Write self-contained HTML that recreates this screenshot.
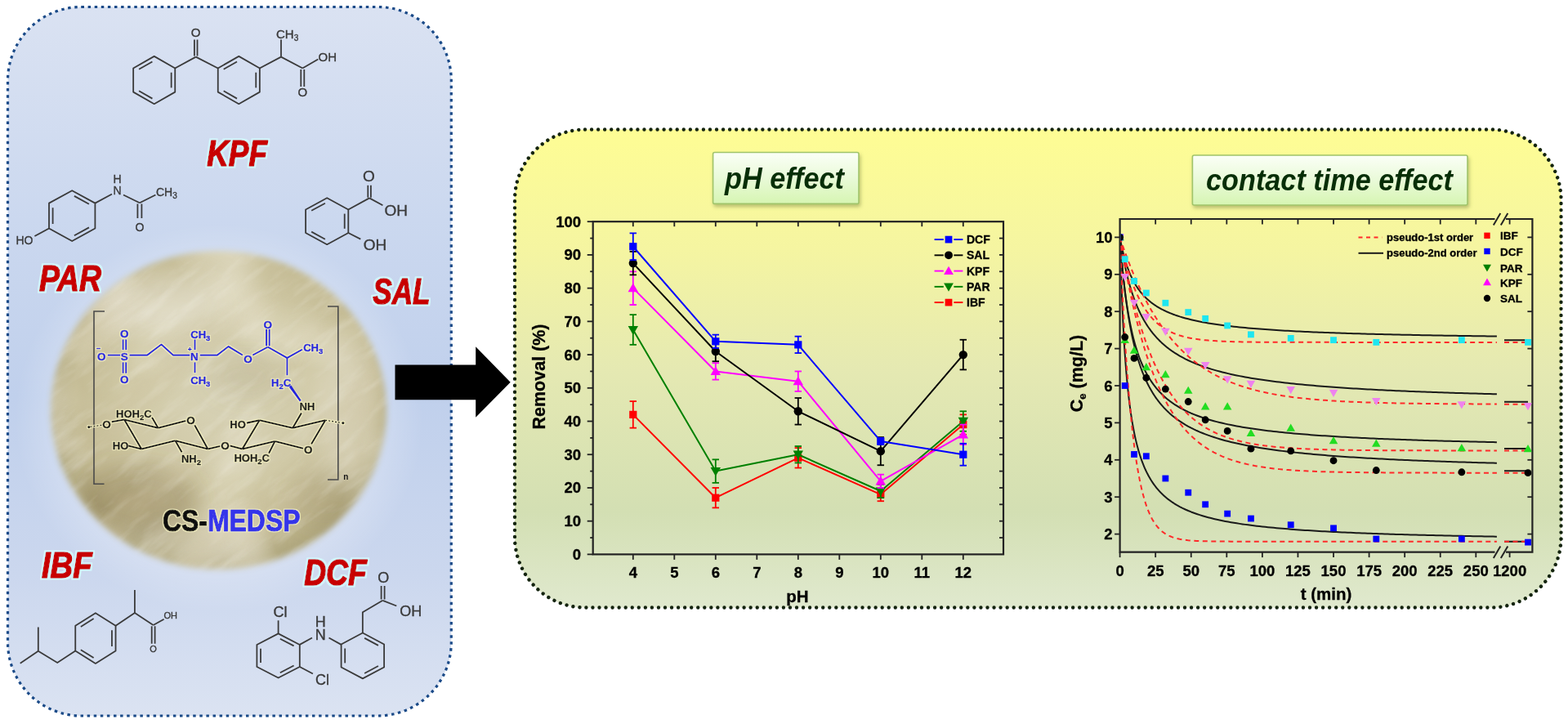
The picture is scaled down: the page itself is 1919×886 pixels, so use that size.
<!DOCTYPE html><html><head><meta charset="utf-8"><title>CS-MEDSP graphical abstract</title>
<style>html,body{margin:0;padding:0;background:#fff;overflow:hidden}svg{display:block}text{font-family:'Liberation Sans', Arial, sans-serif}.ch text{stroke:#3a3a3a;stroke-width:.35px}.ax text{stroke:#000;stroke-width:.3px}.pb text{stroke:#2525dc;stroke-width:.6px}.pk text{stroke:#141414;stroke-width:.5px}</style></head><body>
<svg width="1919" height="886" viewBox="0 0 1919 886">
<defs>
<linearGradient id="gL" x1="0" y1="0" x2="0" y2="1">
 <stop offset="0" stop-color="#dae2f2"/>
 <stop offset="0.3" stop-color="#cbd8ef"/>
 <stop offset="0.55" stop-color="#c0d0ec"/>
 <stop offset="0.8" stop-color="#cbd7ee"/>
 <stop offset="1" stop-color="#dbe3f2"/>
</linearGradient>
<radialGradient id="gHalo" cx="0.5" cy="0.5" r="0.5">
 <stop offset="0.7" stop-color="#ffffff" stop-opacity="0.32"/>
 <stop offset="0.85" stop-color="#ffffff" stop-opacity="0.16"/>
 <stop offset="1" stop-color="#ffffff" stop-opacity="0"/>
</radialGradient>
<radialGradient id="gLr" cx="0.5" cy="0.55" r="0.6">
 <stop offset="0" stop-color="#b7c9e9" stop-opacity="0.0"/>
 <stop offset="1" stop-color="#e4eaf5" stop-opacity="0.0"/>
</radialGradient>
<linearGradient id="gR" x1="0" y1="0" x2="0" y2="1">
 <stop offset="0" stop-color="#fefd94"/>
 <stop offset="0.25" stop-color="#f5f5a1"/>
 <stop offset="0.5" stop-color="#e5e9b2"/>
 <stop offset="0.8" stop-color="#d3dfb3"/>
 <stop offset="1" stop-color="#e0e9ce"/>
</linearGradient>
<linearGradient id="gT" x1="0" y1="0" x2="0" y2="1">
 <stop offset="0" stop-color="#fbfff7"/>
 <stop offset="0.5" stop-color="#e9fad8"/>
 <stop offset="1" stop-color="#d6f5b2"/>
</linearGradient>
<radialGradient id="gD" gradientUnits="userSpaceOnUse" cx="275" cy="480" r="215" gradientTransform="translate(275 480) scale(1 0.95) translate(-275 -480)">
 <stop offset="0" stop-color="#d8d3b7"/>
 <stop offset="0.55" stop-color="#d0c9a6"/>
 <stop offset="0.85" stop-color="#c4bb94"/>
 <stop offset="1" stop-color="#b1a87f"/>
</radialGradient>
<filter id="fBlur" x="-10%" y="-10%" width="120%" height="120%"><feGaussianBlur stdDeviation="3.8"/></filter>
<filter id="fSoft" x="-30%" y="-30%" width="160%" height="160%"><feGaussianBlur stdDeviation="14"/></filter>
<filter id="fMot" x="0" y="0" width="100%" height="100%">
 <feTurbulence type="fractalNoise" baseFrequency="0.009" numOctaves="2" seed="21" result="n"/>
 <feColorMatrix in="n" type="matrix" values="0 0 0 0 1  0 0 0 0 0.98  0 0 0 0 0.92  2.2 0 0 0 -1.05" result="w"/>
 <feComposite in="w" in2="SourceGraphic" operator="in"/>
</filter>
<filter id="fTexW" x="0" y="0" width="100%" height="100%">
 <feTurbulence type="fractalNoise" baseFrequency="0.016 0.075" numOctaves="4" seed="11" result="n"/>
 <feColorMatrix in="n" type="matrix" values="0 0 0 0 1  0 0 0 0 1  0 0 0 0 0.98  1.5 0 0 0 -0.72" result="w"/>
 <feComposite in="w" in2="SourceGraphic" operator="in"/>
</filter>
<filter id="fTexD" x="0" y="0" width="100%" height="100%">
 <feTurbulence type="fractalNoise" baseFrequency="0.006 0.02" numOctaves="3" seed="4" result="n"/>
 <feColorMatrix in="n" type="matrix" values="0 0 0 0 0.62  0 0 0 0 0.55  0 0 0 0 0.36  0 1.6 0 0 -0.78" result="w"/>
 <feComposite in="w" in2="SourceGraphic" operator="in"/>
</filter>
<filter id="fTex" x="0" y="0" width="100%" height="100%">
 <feTurbulence type="fractalNoise" baseFrequency="0.012 0.035" numOctaves="3" seed="7" result="n"/>
 <feColorMatrix in="n" type="matrix" values="0 0 0 0 1  0 0 0 0 1  0 0 0 0 0.97  1.6 0 0 0 -0.75" result="w"/>
 <feComposite in="w" in2="SourceGraphic" operator="in"/>
</filter>
<filter id="fShadow" x="-10%" y="-10%" width="130%" height="140%"><feDropShadow dx="1.5" dy="3" stdDeviation="2" flood-color="#6f7a3a" flood-opacity="0.45"/></filter>
<filter id="fGlowC" x="-5%" y="-5%" width="110%" height="110%"><feMorphology in="SourceAlpha" operator="dilate" radius="1.5" result="d"/><feFlood flood-color="#d2f4fb"/><feComposite in2="d" operator="in" result="g"/><feMerge><feMergeNode in="g"/><feMergeNode in="SourceGraphic"/></feMerge></filter>
<filter id="fGlowY" x="-5%" y="-5%" width="110%" height="110%"><feMorphology in="SourceAlpha" operator="dilate" radius="1.1" result="d"/><feFlood flood-color="#f3efc0" flood-opacity="0.85"/><feComposite in2="d" operator="in" result="g"/><feMerge><feMergeNode in="g"/><feMergeNode in="SourceGraphic"/></feMerge></filter>
<clipPath id="cp1"><rect x="726.7" y="272.2" width="500.3" height="405.2"/></clipPath>
<clipPath id="cp2a"><rect x="1371.6" y="269" width="460.3" height="405.6"/></clipPath>
<clipPath id="cp2b"><rect x="1840" y="269" width="34.5" height="405.6"/></clipPath>
</defs>
<rect x="0" y="0" width="1919" height="886" fill="#ffffff"/>
<rect x="9.5" y="8.5" width="542.8" height="867.5" rx="90" ry="90" fill="url(#gL)"/>
<rect x="9.5" y="8.5" width="542.8" height="867.5" rx="90" ry="90" fill="url(#gLr)"/>
<rect x="9.5" y="8.5" width="542.8" height="867.5" rx="90" ry="90" fill="none" stroke="#1a4a88" stroke-width="3.2" stroke-dasharray="3.48 4.62"/>
<ellipse cx="268" cy="512" rx="250" ry="238" fill="url(#gHalo)"/>
<mask id="mDisc" maskUnits="userSpaceOnUse" x="0" y="250" width="560" height="520"><ellipse cx="267.5" cy="502" rx="205.5" ry="195" fill="#fff" filter="url(#fBlur)"/></mask>
<g mask="url(#mDisc)">
<rect x="40" y="290" width="460" height="430" fill="url(#gD)"/>
<rect x="40" y="290" width="460" height="430" fill="#fff" opacity="0.55" filter="url(#fMot)"/>
<g filter="url(#fSoft)">
<ellipse cx="190" cy="372" rx="85" ry="38" fill="#f4f2ea" opacity="0.35"/>
<ellipse cx="425" cy="505" rx="38" ry="85" fill="#f4f2ea" opacity="0.3"/>
<ellipse cx="250" cy="668" rx="80" ry="22" fill="#f4f2ea" opacity="0.3"/>
<ellipse cx="170" cy="612" rx="72" ry="42" fill="#7a6a3e" opacity="0.34"/>
<ellipse cx="398" cy="612" rx="45" ry="34" fill="#85774a" opacity="0.22"/>
<ellipse cx="300" cy="462" rx="45" ry="26" fill="#8a7a4c" opacity="0.14"/>
</g>
<g transform="rotate(-38 268 505)" opacity="0.34"><rect x="-20" y="230" width="580" height="560" fill="#fff" filter="url(#fTexW)"/></g>
<g transform="rotate(-40 268 505)" opacity="0.6"><rect x="-20" y="230" width="580" height="560" fill="#fff" filter="url(#fTexD)"/></g>
</g>
<g class="ch">
<polygon points="188.7,68.9 214.25,83.47 214.25,112.62 188.7,127.2 163.15,112.62 163.15,83.47" fill="none" stroke="#3a3a3a" stroke-width="1.8" stroke-linejoin="round"/>
<line x1="170.07" y1="84.82" x2="186.42" y2="75.5" stroke="#3a3a3a" stroke-width="1.8"/>
<line x1="209.65" y1="88.72" x2="209.65" y2="107.38" stroke="#3a3a3a" stroke-width="1.8"/>
<line x1="186.42" y1="120.6" x2="170.07" y2="111.28" stroke="#3a3a3a" stroke-width="1.8"/>
<polygon points="292.3,68.9 317.85,83.47 317.85,112.62 292.3,127.2 266.75,112.62 266.75,83.47" fill="none" stroke="#3a3a3a" stroke-width="1.8" stroke-linejoin="round"/>
<line x1="273.67" y1="84.82" x2="290.02" y2="75.5" stroke="#3a3a3a" stroke-width="1.8"/>
<line x1="313.25" y1="88.72" x2="313.25" y2="107.38" stroke="#3a3a3a" stroke-width="1.8"/>
<line x1="290.02" y1="120.6" x2="273.67" y2="111.28" stroke="#3a3a3a" stroke-width="1.8"/>
<line x1="214.2" y1="83.5" x2="239.7" y2="69.6" stroke="#3a3a3a" stroke-width="1.8"/>
<line x1="239.7" y1="69.6" x2="266.7" y2="83.5" stroke="#3a3a3a" stroke-width="1.8"/>
<line x1="237.9" y1="48.5" x2="237.9" y2="68.5" stroke="#3a3a3a" stroke-width="1.8"/>
<line x1="241.5" y1="48.5" x2="241.5" y2="68.5" stroke="#3a3a3a" stroke-width="1.8"/>
<text x="239.7" y="44.5" font-size="15" fill="#3a3a3a" font-weight="normal" text-anchor="middle">O</text>
<line x1="317.8" y1="83.5" x2="344" y2="69.6" stroke="#3a3a3a" stroke-width="1.8"/>
<line x1="344" y1="69.6" x2="344" y2="48.5" stroke="#3a3a3a" stroke-width="1.8"/>
<text x="338" y="47.3" font-size="15" fill="#3a3a3a" font-weight="normal" text-anchor="start">CH<tspan font-size="10" dy="3">3</tspan></text>
<line x1="344" y1="69.6" x2="370.3" y2="83.5" stroke="#3a3a3a" stroke-width="1.8"/>
<line x1="370.3" y1="83.5" x2="389.3" y2="72.5" stroke="#3a3a3a" stroke-width="1.8"/>
<text x="389.5" y="75" font-size="15" fill="#3a3a3a" font-weight="normal" text-anchor="start">OH</text>
<line x1="368.3" y1="85" x2="368.3" y2="106" stroke="#3a3a3a" stroke-width="1.8"/>
<line x1="372.3" y1="85" x2="372.3" y2="106" stroke="#3a3a3a" stroke-width="1.8"/>
<text x="370.3" y="118" font-size="15" fill="#3a3a3a" font-weight="normal" text-anchor="middle">O</text>
<polygon points="88.2,233.2 116.4,248.65 116.4,279.55 88.2,295 60,279.55 60,248.65" fill="none" stroke="#3a3a3a" stroke-width="1.8" stroke-linejoin="round"/>
<line x1="90.89" y1="239.91" x2="108.93" y2="249.8" stroke="#3a3a3a" stroke-width="1.8"/>
<line x1="64.6" y1="273.99" x2="64.6" y2="254.21" stroke="#3a3a3a" stroke-width="1.8"/>
<line x1="108.93" y1="278.4" x2="90.89" y2="288.29" stroke="#3a3a3a" stroke-width="1.8"/>
<line x1="116.4" y1="248.65" x2="137" y2="237.5" stroke="#3a3a3a" stroke-width="1.8"/>
<text x="143.5" y="237.8" font-size="14" fill="#3a3a3a" font-weight="normal" text-anchor="middle">N</text>
<text x="143.5" y="224" font-size="14" fill="#3a3a3a" font-weight="normal" text-anchor="middle">H</text>
<line x1="151" y1="238.5" x2="170.9" y2="248.2" stroke="#3a3a3a" stroke-width="1.8"/>
<line x1="170.9" y1="248.2" x2="190.4" y2="238.5" stroke="#3a3a3a" stroke-width="1.8"/>
<text x="191" y="240.3" font-size="14" fill="#3a3a3a" font-weight="normal" text-anchor="start">CH<tspan font-size="10" dy="3">3</tspan></text>
<line x1="168.4" y1="249.5" x2="168.4" y2="267" stroke="#3a3a3a" stroke-width="1.8"/>
<line x1="173.4" y1="249.5" x2="173.4" y2="267" stroke="#3a3a3a" stroke-width="1.8"/>
<text x="170.9" y="283" font-size="14" fill="#3a3a3a" font-weight="normal" text-anchor="middle">O</text>
<line x1="60" y1="279.55" x2="42.4" y2="289" stroke="#3a3a3a" stroke-width="1.8"/>
<text x="30" y="298.5" font-size="14" fill="#3a3a3a" font-weight="normal" text-anchor="middle">HO</text>
<polygon points="400.2,242.2 426.3,256.45 426.3,284.95 400.2,299.2 374.1,284.95 374.1,256.45" fill="none" stroke="#3a3a3a" stroke-width="1.8" stroke-linejoin="round"/>
<line x1="381.19" y1="257.81" x2="397.9" y2="248.69" stroke="#3a3a3a" stroke-width="1.8"/>
<line x1="421.7" y1="261.58" x2="421.7" y2="279.82" stroke="#3a3a3a" stroke-width="1.8"/>
<line x1="397.9" y1="292.71" x2="381.19" y2="283.59" stroke="#3a3a3a" stroke-width="1.8"/>
<line x1="426.3" y1="256.45" x2="452.1" y2="242.4" stroke="#3a3a3a" stroke-width="1.8"/>
<line x1="450.3" y1="226.8" x2="450.3" y2="241.7" stroke="#3a3a3a" stroke-width="1.8"/>
<line x1="453.9" y1="226.8" x2="453.9" y2="241.7" stroke="#3a3a3a" stroke-width="1.8"/>
<text x="451.5" y="222.2" font-size="19" fill="#3a3a3a" font-weight="normal" text-anchor="middle">O</text>
<line x1="452.1" y1="242.4" x2="468.4" y2="251.2" stroke="#3a3a3a" stroke-width="1.8"/>
<text x="484.7" y="263.5" font-size="19" fill="#3a3a3a" font-weight="normal" text-anchor="middle">OH</text>
<line x1="426.3" y1="284.95" x2="441.3" y2="292.6" stroke="#3a3a3a" stroke-width="1.8"/>
<text x="459" y="306.2" font-size="19" fill="#3a3a3a" font-weight="normal" text-anchor="middle">OH</text>
<polygon points="116.9,750.25 141.55,765.68 141.55,796.52 116.9,811.95 92.25,796.52 92.25,765.68" fill="none" stroke="#3a3a3a" stroke-width="1.8" stroke-linejoin="round"/>
<line x1="98.85" y1="766.96" x2="114.63" y2="757.09" stroke="#3a3a3a" stroke-width="1.8"/>
<line x1="136.95" y1="771.23" x2="136.95" y2="790.97" stroke="#3a3a3a" stroke-width="1.8"/>
<line x1="114.63" y1="805.11" x2="98.85" y2="795.24" stroke="#3a3a3a" stroke-width="1.8"/>
<polyline points="92.25,796.5 70.2,811 46.8,796.8 46.8,767.6" fill="none" stroke="#3a3a3a" stroke-width="1.8"/>
<line x1="46.8" y1="796.8" x2="24.7" y2="811.7" stroke="#3a3a3a" stroke-width="1.8"/>
<polyline points="141.55,765.7 164.9,750 164.9,722.1" fill="none" stroke="#3a3a3a" stroke-width="1.8"/>
<line x1="164.9" y1="750" x2="187.6" y2="765" stroke="#3a3a3a" stroke-width="1.8"/>
<line x1="187.6" y1="765" x2="200.6" y2="757.8" stroke="#3a3a3a" stroke-width="1.8"/>
<text x="208.7" y="757" font-size="11" fill="#3a3a3a" font-weight="normal" text-anchor="middle">OH</text>
<line x1="185.7" y1="766.3" x2="185.7" y2="787.7" stroke="#3a3a3a" stroke-width="1.8"/>
<line x1="189.6" y1="766.3" x2="189.6" y2="787.7" stroke="#3a3a3a" stroke-width="1.8"/>
<text x="187.6" y="797.5" font-size="11" fill="#3a3a3a" font-weight="normal" text-anchor="middle">O</text>
<polygon points="340.6,775.4 366.8,788.93 366.8,815.98 340.6,829.5 314.4,815.98 314.4,788.93" fill="none" stroke="#3a3a3a" stroke-width="1.8" stroke-linejoin="round"/>
<line x1="342.82" y1="781.7" x2="359.59" y2="790.35" stroke="#3a3a3a" stroke-width="1.8"/>
<line x1="319" y1="811.11" x2="319" y2="793.79" stroke="#3a3a3a" stroke-width="1.8"/>
<line x1="359.59" y1="814.55" x2="342.82" y2="823.2" stroke="#3a3a3a" stroke-width="1.8"/>
<polygon points="443.85,774.5 470.1,788.48 470.1,816.43 443.85,830.4 417.6,816.43 417.6,788.48" fill="none" stroke="#3a3a3a" stroke-width="1.8" stroke-linejoin="round"/>
<line x1="446.13" y1="780.91" x2="462.93" y2="789.86" stroke="#3a3a3a" stroke-width="1.8"/>
<line x1="422.2" y1="811.39" x2="422.2" y2="793.51" stroke="#3a3a3a" stroke-width="1.8"/>
<line x1="462.93" y1="815.04" x2="446.13" y2="823.99" stroke="#3a3a3a" stroke-width="1.8"/>
<line x1="340.6" y1="775.4" x2="340.6" y2="759.3" stroke="#3a3a3a" stroke-width="1.8"/>
<text x="343" y="755.4" font-size="18" fill="#3a3a3a" font-weight="normal" text-anchor="middle">Cl</text>
<line x1="366.8" y1="816" x2="382.9" y2="824.5" stroke="#3a3a3a" stroke-width="1.8"/>
<text x="394.5" y="837.6" font-size="18" fill="#3a3a3a" font-weight="normal" text-anchor="middle">Cl</text>
<line x1="366.8" y1="788.9" x2="382" y2="780.5" stroke="#3a3a3a" stroke-width="1.8"/>
<text x="392.2" y="782.6" font-size="18" fill="#3a3a3a" font-weight="normal" text-anchor="middle">N</text>
<text x="392.2" y="766.6" font-size="18" fill="#3a3a3a" font-weight="normal" text-anchor="middle">H</text>
<line x1="402.5" y1="780.5" x2="417.6" y2="788.9" stroke="#3a3a3a" stroke-width="1.8"/>
<polyline points="443.85,774.5 443.85,749.2 468.4,734.8" fill="none" stroke="#3a3a3a" stroke-width="1.8"/>
<line x1="466.6" y1="717" x2="466.6" y2="733.5" stroke="#3a3a3a" stroke-width="1.8"/>
<line x1="470.6" y1="717" x2="470.6" y2="733.5" stroke="#3a3a3a" stroke-width="1.8"/>
<text x="469.2" y="713.4" font-size="18" fill="#3a3a3a" font-weight="normal" text-anchor="middle">O</text>
<line x1="468.4" y1="734.8" x2="485.3" y2="741.5" stroke="#3a3a3a" stroke-width="1.8"/>
<text x="502.7" y="754.4" font-size="18" fill="#3a3a3a" font-weight="normal" text-anchor="middle">OH</text>
</g>
<polyline points="128,381 115,381 115,592.2 127.5,592.2" fill="none" stroke="#4a4a4a" stroke-width="1.6"/>
<polyline points="401,375 413.8,375 413.8,587 401,587" fill="none" stroke="#4a4a4a" stroke-width="1.6"/>
<text x="423.4" y="586.5" font-size="10" fill="#141414" font-weight="bold" text-anchor="middle">n</text>
<g class="pb" filter="url(#fGlowY)" stroke-linejoin="round">
<text x="124.3" y="440.6" font-size="13.5" fill="#2525dc" font-weight="bold" text-anchor="middle">O</text>
<text x="120.6" y="428.5" font-size="9" fill="#2525dc" font-weight="bold" text-anchor="middle">&#8211;</text>
<line x1="131.7" y1="434.6" x2="147.2" y2="434.6" stroke="#2525dc" stroke-width="2.1"/>
<text x="152.2" y="440.6" font-size="13.5" fill="#2525dc" font-weight="bold" text-anchor="middle">S</text>
<line x1="150.6" y1="415.3" x2="150.6" y2="428.3" stroke="#2525dc" stroke-width="2.1"/>
<line x1="154.2" y1="415.3" x2="154.2" y2="428.3" stroke="#2525dc" stroke-width="2.1"/>
<text x="152.2" y="412.7" font-size="13.5" fill="#2525dc" font-weight="bold" text-anchor="middle">O</text>
<line x1="150.6" y1="443.2" x2="150.6" y2="456.9" stroke="#2525dc" stroke-width="2.1"/>
<line x1="154.2" y1="443.2" x2="154.2" y2="456.9" stroke="#2525dc" stroke-width="2.1"/>
<text x="152.2" y="468.5" font-size="13.5" fill="#2525dc" font-weight="bold" text-anchor="middle">O</text>
<polyline points="158.4,434.6 180.1,434.6 197.5,421.5 211.8,434.6 232.3,434.6" fill="none" stroke="#2525dc" stroke-width="2.1"/>
<text x="237.9" y="441.2" font-size="13.5" fill="#2525dc" font-weight="bold" text-anchor="middle">N</text>
<text x="232.3" y="430" font-size="8" fill="#2525dc" font-weight="bold" text-anchor="middle">+</text>
<line x1="238.5" y1="428.3" x2="238.5" y2="415.3" stroke="#2525dc" stroke-width="2.1"/>
<text x="233.3" y="413.8" font-size="13" fill="#2525dc" font-weight="bold" text-anchor="start">CH<tspan font-size="9.5" dy="3">3</tspan></text>
<line x1="238.5" y1="443.2" x2="238.5" y2="456.3" stroke="#2525dc" stroke-width="2.1"/>
<text x="233.3" y="469.8" font-size="13" fill="#2525dc" font-weight="bold" text-anchor="start">CH<tspan font-size="9.5" dy="3">3</tspan></text>
<polyline points="244.7,434.6 265.8,434.6 279.5,424 297,434.6" fill="none" stroke="#2525dc" stroke-width="2.1"/>
<text x="303.5" y="443.7" font-size="13.5" fill="#2525dc" font-weight="bold" text-anchor="middle">O</text>
<line x1="309.2" y1="434.6" x2="327.8" y2="424.6" stroke="#2525dc" stroke-width="2.1"/>
<line x1="326.1" y1="402.9" x2="326.1" y2="423.4" stroke="#2525dc" stroke-width="2.1"/>
<line x1="329.7" y1="402.9" x2="329.7" y2="423.4" stroke="#2525dc" stroke-width="2.1"/>
<text x="327.8" y="401.5" font-size="13.5" fill="#2525dc" font-weight="bold" text-anchor="middle">O</text>
<polyline points="327.8,424.6 351.4,438 370,427.7" fill="none" stroke="#2525dc" stroke-width="2.1"/>
<text x="371.2" y="430.3" font-size="13" fill="#2525dc" font-weight="bold" text-anchor="start">CH<tspan font-size="9.5" dy="3">3</tspan></text>
<line x1="351.4" y1="438" x2="351.4" y2="459.4" stroke="#2525dc" stroke-width="2.1"/>
<text x="332.1" y="472.6" font-size="13" fill="#2525dc" font-weight="bold" text-anchor="start">H<tspan font-size="9.5" dy="3">2</tspan><tspan dy="-3">C</tspan></text>
<line x1="354.5" y1="473" x2="367.7" y2="490.5" stroke="#2525dc" stroke-width="2.1"/>
</g>
<g class="pk" filter="url(#fGlowY)">
<circle cx="108.8" cy="522.6" r="1.7" fill="#141414"/>
<line x1="110.5" y1="522.3" x2="125" y2="520.2" stroke="#141414" stroke-width="1.5" stroke-dasharray="2 2"/>
<text x="130.5" y="524.4" font-size="13.5" fill="#141414" font-weight="bold" text-anchor="middle">O</text>
<line x1="136.6" y1="516.2" x2="152.1" y2="513.5" stroke="#141414" stroke-width="2.1"/>
<text x="142" y="511" font-size="13" fill="#141414" font-weight="bold" text-anchor="start">HOH<tspan font-size="9.5" dy="3">2</tspan><tspan dy="-3">C</tspan></text>
<line x1="152.1" y1="513.5" x2="193.5" y2="523.7" stroke="#141414" stroke-width="2.1"/>
<line x1="193.5" y1="523.7" x2="186" y2="510.8" stroke="#141414" stroke-width="2.1"/>
<line x1="193.5" y1="523.7" x2="227.3" y2="514.9" stroke="#141414" stroke-width="2.1"/>
<text x="233.4" y="519" font-size="13.5" fill="#141414" font-weight="bold" text-anchor="middle">O</text>
<line x1="238.2" y1="520.3" x2="254.4" y2="549.4" stroke="#141414" stroke-width="2.1"/>
<line x1="254.4" y1="549.4" x2="269.3" y2="546" stroke="#141414" stroke-width="2.1"/>
<text x="275.4" y="549.5" font-size="13.5" fill="#141414" font-weight="bold" text-anchor="middle">O</text>
<line x1="152.1" y1="513.5" x2="173.1" y2="549.4" stroke="#141414" stroke-width="2.1"/>
<text x="147.5" y="549.8" font-size="13" fill="#141414" font-weight="bold" text-anchor="middle">HO</text>
<line x1="157" y1="545.5" x2="173.1" y2="549.4" stroke="#141414" stroke-width="2.1"/>
<line x1="173.1" y1="549.4" x2="214.5" y2="539.2" stroke="#141414" stroke-width="2.1"/>
<line x1="214.5" y1="539.2" x2="254.4" y2="549.4" stroke="#141414" stroke-width="2.1"/>
<line x1="214.5" y1="539.2" x2="222.6" y2="553.5" stroke="#141414" stroke-width="2.1"/>
<text x="221.9" y="566" font-size="13" fill="#141414" font-weight="bold" text-anchor="start">NH<tspan font-size="9.5" dy="3">2</tspan></text>
<line x1="281.5" y1="545.5" x2="296.6" y2="549.4" stroke="#141414" stroke-width="2.1"/>
<line x1="296.6" y1="549.4" x2="317.6" y2="514.2" stroke="#141414" stroke-width="2.1"/>
<text x="291" y="524.4" font-size="13" fill="#141414" font-weight="bold" text-anchor="middle">HO</text>
<line x1="302" y1="517.6" x2="317.6" y2="514.2" stroke="#141414" stroke-width="2.1"/>
<line x1="317.6" y1="514.2" x2="358.2" y2="523.7" stroke="#141414" stroke-width="2.1"/>
<line x1="358.2" y1="523.7" x2="369" y2="505.4" stroke="#141414" stroke-width="2.1"/>
<text x="376" y="502.4" font-size="13" fill="#141414" font-weight="bold" text-anchor="middle">NH</text>
<line x1="358.2" y1="523.7" x2="398.2" y2="514.2" stroke="#141414" stroke-width="2.1"/>
<line x1="398.2" y1="514.2" x2="417" y2="517.3" stroke="#141414" stroke-width="1.5" stroke-dasharray="2 2"/>
<circle cx="419.8" cy="517.6" r="1.7" fill="#141414"/>
<line x1="398.2" y1="514.2" x2="381" y2="543.5" stroke="#141414" stroke-width="2.1"/>
<text x="377.2" y="554.8" font-size="13.5" fill="#141414" font-weight="bold" text-anchor="middle">O</text>
<line x1="371" y1="548.7" x2="336.5" y2="539.9" stroke="#141414" stroke-width="2.1"/>
<line x1="336.5" y1="539.9" x2="296.6" y2="549.4" stroke="#141414" stroke-width="2.1"/>
<line x1="336.5" y1="539.9" x2="329" y2="554.8" stroke="#141414" stroke-width="2.1"/>
<text x="286.4" y="565.3" font-size="13" fill="#141414" font-weight="bold" text-anchor="start">HOH<tspan font-size="9.5" dy="3">2</tspan><tspan dy="-3">C</tspan></text>
</g>
<line x1="355.5" y1="472.2" x2="367.7" y2="490.5" stroke="#2525dc" stroke-width="2.1"/>
<text x="199" y="650" font-size="37.5" font-weight="bold" textLength="168.5" lengthAdjust="spacingAndGlyphs" filter="url(#fGlowY)" stroke-width="1.1" stroke-linejoin="round"><tspan fill="#111" stroke="#111">CS-</tspan><tspan fill="#3434ea" stroke="#3434ea">MEDSP</tspan></text>
<text x="253.3" y="203.3" font-size="44" font-weight="bold" font-style="italic" fill="#c80000" stroke="#c80000" stroke-width="1.6" stroke-linejoin="round" textLength="73.6" lengthAdjust="spacingAndGlyphs" filter="url(#fGlowC)">KPF</text>
<text x="47.9" y="356" font-size="44" font-weight="bold" font-style="italic" fill="#c80000" stroke="#c80000" stroke-width="1.6" stroke-linejoin="round" textLength="76.1" lengthAdjust="spacingAndGlyphs" filter="url(#fGlowC)">PAR</text>
<text x="456.2" y="371.8" font-size="44" font-weight="bold" font-style="italic" fill="#c80000" stroke="#c80000" stroke-width="1.6" stroke-linejoin="round" textLength="70.3" lengthAdjust="spacingAndGlyphs" filter="url(#fGlowC)">SAL</text>
<text x="51" y="707.3" font-size="44" font-weight="bold" font-style="italic" fill="#c80000" stroke="#c80000" stroke-width="1.6" stroke-linejoin="round" textLength="61.6" lengthAdjust="spacingAndGlyphs" filter="url(#fGlowC)">IBF</text>
<text x="372.2" y="716.3" font-size="44" font-weight="bold" font-style="italic" fill="#c80000" stroke="#c80000" stroke-width="1.6" stroke-linejoin="round" textLength="76.6" lengthAdjust="spacingAndGlyphs" filter="url(#fGlowC)">DCF</text>
<polygon points="483.5,446.6 582.2,446.6 582.2,424.2 624.7,467.8 582.2,510.7 582.2,489.2 483.5,489.2" fill="#000"/>
<rect x="630" y="158.5" width="1280.5" height="585" rx="86" ry="86" fill="url(#gR)"/>
<rect x="630" y="158.5" width="1280.5" height="585" rx="86" ry="86" fill="none" stroke="#14240f" stroke-width="4.4" stroke-dasharray="0.001 8.05" stroke-linecap="round"/>
<rect x="872.6" y="186.5" width="178.4" height="62.9" rx="2" fill="url(#gT)" stroke="#a0c46a" stroke-width="1.6" filter="url(#fShadow)"/>
<text x="887" y="231" font-size="36" font-weight="bold" font-style="italic" fill="#072e07" textLength="146" lengthAdjust="spacingAndGlyphs">pH effect</text>
<rect x="1459.4" y="190" width="336.6" height="61" rx="2" fill="url(#gT)" stroke="#a0c46a" stroke-width="1.6" filter="url(#fShadow)"/>
<text x="1476" y="233" font-size="36" font-weight="bold" font-style="italic" fill="#072e07" textLength="302" lengthAdjust="spacingAndGlyphs">contact time effect</text>
<g class="ax">
<line x1="718.7" y1="678.4" x2="725.7" y2="678.4" stroke="#222" stroke-width="1.8"/>
<text x="711" y="684.9" font-size="18.5" fill="#000" font-weight="bold" text-anchor="end">0</text>
<line x1="722.2" y1="658.04" x2="725.7" y2="658.04" stroke="#222" stroke-width="1.8"/>
<line x1="1223" y1="658.04" x2="1228" y2="658.04" stroke="#222" stroke-width="1.8"/>
<line x1="718.7" y1="637.68" x2="725.7" y2="637.68" stroke="#222" stroke-width="1.8"/>
<line x1="1223" y1="637.68" x2="1228" y2="637.68" stroke="#222" stroke-width="1.8"/>
<text x="711" y="644.18" font-size="18.5" fill="#000" font-weight="bold" text-anchor="end">10</text>
<line x1="722.2" y1="617.32" x2="725.7" y2="617.32" stroke="#222" stroke-width="1.8"/>
<line x1="1223" y1="617.32" x2="1228" y2="617.32" stroke="#222" stroke-width="1.8"/>
<line x1="718.7" y1="596.96" x2="725.7" y2="596.96" stroke="#222" stroke-width="1.8"/>
<line x1="1223" y1="596.96" x2="1228" y2="596.96" stroke="#222" stroke-width="1.8"/>
<text x="711" y="603.46" font-size="18.5" fill="#000" font-weight="bold" text-anchor="end">20</text>
<line x1="722.2" y1="576.6" x2="725.7" y2="576.6" stroke="#222" stroke-width="1.8"/>
<line x1="1223" y1="576.6" x2="1228" y2="576.6" stroke="#222" stroke-width="1.8"/>
<line x1="718.7" y1="556.24" x2="725.7" y2="556.24" stroke="#222" stroke-width="1.8"/>
<line x1="1223" y1="556.24" x2="1228" y2="556.24" stroke="#222" stroke-width="1.8"/>
<text x="711" y="562.74" font-size="18.5" fill="#000" font-weight="bold" text-anchor="end">30</text>
<line x1="722.2" y1="535.88" x2="725.7" y2="535.88" stroke="#222" stroke-width="1.8"/>
<line x1="1223" y1="535.88" x2="1228" y2="535.88" stroke="#222" stroke-width="1.8"/>
<line x1="718.7" y1="515.52" x2="725.7" y2="515.52" stroke="#222" stroke-width="1.8"/>
<line x1="1223" y1="515.52" x2="1228" y2="515.52" stroke="#222" stroke-width="1.8"/>
<text x="711" y="522.02" font-size="18.5" fill="#000" font-weight="bold" text-anchor="end">40</text>
<line x1="722.2" y1="495.16" x2="725.7" y2="495.16" stroke="#222" stroke-width="1.8"/>
<line x1="1223" y1="495.16" x2="1228" y2="495.16" stroke="#222" stroke-width="1.8"/>
<line x1="718.7" y1="474.8" x2="725.7" y2="474.8" stroke="#222" stroke-width="1.8"/>
<line x1="1223" y1="474.8" x2="1228" y2="474.8" stroke="#222" stroke-width="1.8"/>
<text x="711" y="481.3" font-size="18.5" fill="#000" font-weight="bold" text-anchor="end">50</text>
<line x1="722.2" y1="454.44" x2="725.7" y2="454.44" stroke="#222" stroke-width="1.8"/>
<line x1="1223" y1="454.44" x2="1228" y2="454.44" stroke="#222" stroke-width="1.8"/>
<line x1="718.7" y1="434.08" x2="725.7" y2="434.08" stroke="#222" stroke-width="1.8"/>
<line x1="1223" y1="434.08" x2="1228" y2="434.08" stroke="#222" stroke-width="1.8"/>
<text x="711" y="440.58" font-size="18.5" fill="#000" font-weight="bold" text-anchor="end">60</text>
<line x1="722.2" y1="413.72" x2="725.7" y2="413.72" stroke="#222" stroke-width="1.8"/>
<line x1="1223" y1="413.72" x2="1228" y2="413.72" stroke="#222" stroke-width="1.8"/>
<line x1="718.7" y1="393.36" x2="725.7" y2="393.36" stroke="#222" stroke-width="1.8"/>
<line x1="1223" y1="393.36" x2="1228" y2="393.36" stroke="#222" stroke-width="1.8"/>
<text x="711" y="399.86" font-size="18.5" fill="#000" font-weight="bold" text-anchor="end">70</text>
<line x1="722.2" y1="373" x2="725.7" y2="373" stroke="#222" stroke-width="1.8"/>
<line x1="1223" y1="373" x2="1228" y2="373" stroke="#222" stroke-width="1.8"/>
<line x1="718.7" y1="352.64" x2="725.7" y2="352.64" stroke="#222" stroke-width="1.8"/>
<line x1="1223" y1="352.64" x2="1228" y2="352.64" stroke="#222" stroke-width="1.8"/>
<text x="711" y="359.14" font-size="18.5" fill="#000" font-weight="bold" text-anchor="end">80</text>
<line x1="722.2" y1="332.28" x2="725.7" y2="332.28" stroke="#222" stroke-width="1.8"/>
<line x1="1223" y1="332.28" x2="1228" y2="332.28" stroke="#222" stroke-width="1.8"/>
<line x1="718.7" y1="311.92" x2="725.7" y2="311.92" stroke="#222" stroke-width="1.8"/>
<line x1="1223" y1="311.92" x2="1228" y2="311.92" stroke="#222" stroke-width="1.8"/>
<text x="711" y="318.42" font-size="18.5" fill="#000" font-weight="bold" text-anchor="end">90</text>
<line x1="722.2" y1="291.56" x2="725.7" y2="291.56" stroke="#222" stroke-width="1.8"/>
<line x1="1223" y1="291.56" x2="1228" y2="291.56" stroke="#222" stroke-width="1.8"/>
<line x1="718.7" y1="271.2" x2="725.7" y2="271.2" stroke="#222" stroke-width="1.8"/>
<text x="711" y="277.7" font-size="18.5" fill="#000" font-weight="bold" text-anchor="end">100</text>
<line x1="774.8" y1="678.4" x2="774.8" y2="684.9" stroke="#222" stroke-width="1.8"/>
<line x1="774.8" y1="271.2" x2="774.8" y2="277.2" stroke="#222" stroke-width="1.8"/>
<text x="774.8" y="707" font-size="18.5" fill="#000" font-weight="bold" text-anchor="middle">4</text>
<line x1="825.3" y1="678.4" x2="825.3" y2="684.9" stroke="#222" stroke-width="1.8"/>
<line x1="825.3" y1="271.2" x2="825.3" y2="277.2" stroke="#222" stroke-width="1.8"/>
<text x="825.3" y="707" font-size="18.5" fill="#000" font-weight="bold" text-anchor="middle">5</text>
<line x1="875.8" y1="678.4" x2="875.8" y2="684.9" stroke="#222" stroke-width="1.8"/>
<line x1="875.8" y1="271.2" x2="875.8" y2="277.2" stroke="#222" stroke-width="1.8"/>
<text x="875.8" y="707" font-size="18.5" fill="#000" font-weight="bold" text-anchor="middle">6</text>
<line x1="926.3" y1="678.4" x2="926.3" y2="684.9" stroke="#222" stroke-width="1.8"/>
<line x1="926.3" y1="271.2" x2="926.3" y2="277.2" stroke="#222" stroke-width="1.8"/>
<text x="926.3" y="707" font-size="18.5" fill="#000" font-weight="bold" text-anchor="middle">7</text>
<line x1="976.8" y1="678.4" x2="976.8" y2="684.9" stroke="#222" stroke-width="1.8"/>
<line x1="976.8" y1="271.2" x2="976.8" y2="277.2" stroke="#222" stroke-width="1.8"/>
<text x="976.8" y="707" font-size="18.5" fill="#000" font-weight="bold" text-anchor="middle">8</text>
<line x1="1027.3" y1="678.4" x2="1027.3" y2="684.9" stroke="#222" stroke-width="1.8"/>
<line x1="1027.3" y1="271.2" x2="1027.3" y2="277.2" stroke="#222" stroke-width="1.8"/>
<text x="1027.3" y="707" font-size="18.5" fill="#000" font-weight="bold" text-anchor="middle">9</text>
<line x1="1077.8" y1="678.4" x2="1077.8" y2="684.9" stroke="#222" stroke-width="1.8"/>
<line x1="1077.8" y1="271.2" x2="1077.8" y2="277.2" stroke="#222" stroke-width="1.8"/>
<text x="1077.8" y="707" font-size="18.5" fill="#000" font-weight="bold" text-anchor="middle">10</text>
<line x1="1128.3" y1="678.4" x2="1128.3" y2="684.9" stroke="#222" stroke-width="1.8"/>
<line x1="1128.3" y1="271.2" x2="1128.3" y2="277.2" stroke="#222" stroke-width="1.8"/>
<text x="1128.3" y="707" font-size="18.5" fill="#000" font-weight="bold" text-anchor="middle">11</text>
<line x1="1178.8" y1="678.4" x2="1178.8" y2="684.9" stroke="#222" stroke-width="1.8"/>
<line x1="1178.8" y1="271.2" x2="1178.8" y2="277.2" stroke="#222" stroke-width="1.8"/>
<text x="1178.8" y="707" font-size="18.5" fill="#000" font-weight="bold" text-anchor="middle">12</text>
<rect x="725.7" y="271.2" width="502.3" height="407.2" fill="none" stroke="#222" stroke-width="2.2"/>
<text x="976" y="736.5" font-size="20.5" fill="#000" font-weight="bold" text-anchor="middle">pH</text>
<text x="0" y="0" font-size="21.5" font-weight="bold" text-anchor="middle" fill="#000" transform="translate(667 461) rotate(-90)">Removal (%)</text>
<g clip-path="url(#cp1)">
<polyline points="774.8,507.38 875.8,609.18 976.8,560.31 1077.8,605.1 1178.8,519.59" fill="none" stroke="#ff0000" stroke-width="2" stroke-linejoin="round"/>
<line x1="774.8" y1="491.09" x2="774.8" y2="523.66" stroke="#ff0000" stroke-width="1.8"/>
<line x1="770.6" y1="491.09" x2="779" y2="491.09" stroke="#ff0000" stroke-width="1.8"/>
<line x1="770.6" y1="523.66" x2="779" y2="523.66" stroke="#ff0000" stroke-width="1.8"/>
<line x1="875.8" y1="596.96" x2="875.8" y2="621.39" stroke="#ff0000" stroke-width="1.8"/>
<line x1="871.6" y1="596.96" x2="880" y2="596.96" stroke="#ff0000" stroke-width="1.8"/>
<line x1="871.6" y1="621.39" x2="880" y2="621.39" stroke="#ff0000" stroke-width="1.8"/>
<line x1="976.8" y1="548.1" x2="976.8" y2="572.53" stroke="#ff0000" stroke-width="1.8"/>
<line x1="972.6" y1="548.1" x2="981" y2="548.1" stroke="#ff0000" stroke-width="1.8"/>
<line x1="972.6" y1="572.53" x2="981" y2="572.53" stroke="#ff0000" stroke-width="1.8"/>
<line x1="1077.8" y1="596.96" x2="1077.8" y2="613.25" stroke="#ff0000" stroke-width="1.8"/>
<line x1="1073.6" y1="596.96" x2="1082" y2="596.96" stroke="#ff0000" stroke-width="1.8"/>
<line x1="1073.6" y1="613.25" x2="1082" y2="613.25" stroke="#ff0000" stroke-width="1.8"/>
<line x1="1178.8" y1="507.38" x2="1178.8" y2="531.81" stroke="#ff0000" stroke-width="1.8"/>
<line x1="1174.6" y1="507.38" x2="1183" y2="507.38" stroke="#ff0000" stroke-width="1.8"/>
<line x1="1174.6" y1="531.81" x2="1183" y2="531.81" stroke="#ff0000" stroke-width="1.8"/>
<rect x="770.2" y="502.78" width="9.2" height="9.2" fill="#ff0000"/>
<rect x="871.2" y="604.58" width="9.2" height="9.2" fill="#ff0000"/>
<rect x="972.2" y="555.71" width="9.2" height="9.2" fill="#ff0000"/>
<rect x="1073.2" y="600.5" width="9.2" height="9.2" fill="#ff0000"/>
<rect x="1174.2" y="514.99" width="9.2" height="9.2" fill="#ff0000"/>
<polyline points="774.8,403.54 875.8,576.6 976.8,556.24 1077.8,601.03 1178.8,515.52" fill="none" stroke="#008000" stroke-width="2" stroke-linejoin="round"/>
<line x1="774.8" y1="385.22" x2="774.8" y2="421.86" stroke="#008000" stroke-width="1.8"/>
<line x1="770.6" y1="385.22" x2="779" y2="385.22" stroke="#008000" stroke-width="1.8"/>
<line x1="770.6" y1="421.86" x2="779" y2="421.86" stroke="#008000" stroke-width="1.8"/>
<line x1="875.8" y1="562.35" x2="875.8" y2="590.85" stroke="#008000" stroke-width="1.8"/>
<line x1="871.6" y1="562.35" x2="880" y2="562.35" stroke="#008000" stroke-width="1.8"/>
<line x1="871.6" y1="590.85" x2="880" y2="590.85" stroke="#008000" stroke-width="1.8"/>
<line x1="976.8" y1="546.06" x2="976.8" y2="566.42" stroke="#008000" stroke-width="1.8"/>
<line x1="972.6" y1="546.06" x2="981" y2="546.06" stroke="#008000" stroke-width="1.8"/>
<line x1="972.6" y1="566.42" x2="981" y2="566.42" stroke="#008000" stroke-width="1.8"/>
<line x1="1077.8" y1="592.89" x2="1077.8" y2="609.18" stroke="#008000" stroke-width="1.8"/>
<line x1="1073.6" y1="592.89" x2="1082" y2="592.89" stroke="#008000" stroke-width="1.8"/>
<line x1="1073.6" y1="609.18" x2="1082" y2="609.18" stroke="#008000" stroke-width="1.8"/>
<line x1="1178.8" y1="503.3" x2="1178.8" y2="527.74" stroke="#008000" stroke-width="1.8"/>
<line x1="1174.6" y1="503.3" x2="1183" y2="503.3" stroke="#008000" stroke-width="1.8"/>
<line x1="1174.6" y1="527.74" x2="1183" y2="527.74" stroke="#008000" stroke-width="1.8"/>
<polygon points="774.8,409.74 781,398.89 768.6,398.89" fill="#008000"/>
<polygon points="875.8,582.8 882,571.95 869.6,571.95" fill="#008000"/>
<polygon points="976.8,562.44 983,551.59 970.6,551.59" fill="#008000"/>
<polygon points="1077.8,607.23 1084,596.38 1071.6,596.38" fill="#008000"/>
<polygon points="1178.8,521.72 1185,510.87 1172.6,510.87" fill="#008000"/>
<polyline points="774.8,352.64 875.8,454.44 976.8,466.66 1077.8,588.82 1178.8,531.81" fill="none" stroke="#ff00ff" stroke-width="2" stroke-linejoin="round"/>
<line x1="774.8" y1="332.28" x2="774.8" y2="373" stroke="#ff00ff" stroke-width="1.8"/>
<line x1="770.6" y1="332.28" x2="779" y2="332.28" stroke="#ff00ff" stroke-width="1.8"/>
<line x1="770.6" y1="373" x2="779" y2="373" stroke="#ff00ff" stroke-width="1.8"/>
<line x1="875.8" y1="444.26" x2="875.8" y2="464.62" stroke="#ff00ff" stroke-width="1.8"/>
<line x1="871.6" y1="444.26" x2="880" y2="444.26" stroke="#ff00ff" stroke-width="1.8"/>
<line x1="871.6" y1="464.62" x2="880" y2="464.62" stroke="#ff00ff" stroke-width="1.8"/>
<line x1="976.8" y1="454.44" x2="976.8" y2="478.87" stroke="#ff00ff" stroke-width="1.8"/>
<line x1="972.6" y1="454.44" x2="981" y2="454.44" stroke="#ff00ff" stroke-width="1.8"/>
<line x1="972.6" y1="478.87" x2="981" y2="478.87" stroke="#ff00ff" stroke-width="1.8"/>
<line x1="1077.8" y1="580.67" x2="1077.8" y2="596.96" stroke="#ff00ff" stroke-width="1.8"/>
<line x1="1073.6" y1="580.67" x2="1082" y2="580.67" stroke="#ff00ff" stroke-width="1.8"/>
<line x1="1073.6" y1="596.96" x2="1082" y2="596.96" stroke="#ff00ff" stroke-width="1.8"/>
<line x1="1178.8" y1="519.59" x2="1178.8" y2="544.02" stroke="#ff00ff" stroke-width="1.8"/>
<line x1="1174.6" y1="519.59" x2="1183" y2="519.59" stroke="#ff00ff" stroke-width="1.8"/>
<line x1="1174.6" y1="544.02" x2="1183" y2="544.02" stroke="#ff00ff" stroke-width="1.8"/>
<polygon points="774.8,346.44 781,357.29 768.6,357.29" fill="#ff00ff"/>
<polygon points="875.8,448.24 882,459.09 869.6,459.09" fill="#ff00ff"/>
<polygon points="976.8,460.46 983,471.31 970.6,471.31" fill="#ff00ff"/>
<polygon points="1077.8,582.62 1084,593.47 1071.6,593.47" fill="#ff00ff"/>
<polygon points="1178.8,525.61 1185,536.46 1172.6,536.46" fill="#ff00ff"/>
<polyline points="774.8,322.1 875.8,430.01 976.8,503.3 1077.8,552.17 1178.8,434.08" fill="none" stroke="#000000" stroke-width="2" stroke-linejoin="round"/>
<line x1="774.8" y1="307.85" x2="774.8" y2="336.35" stroke="#000000" stroke-width="1.8"/>
<line x1="770.6" y1="307.85" x2="779" y2="307.85" stroke="#000000" stroke-width="1.8"/>
<line x1="770.6" y1="336.35" x2="779" y2="336.35" stroke="#000000" stroke-width="1.8"/>
<line x1="875.8" y1="417.79" x2="875.8" y2="442.22" stroke="#000000" stroke-width="1.8"/>
<line x1="871.6" y1="417.79" x2="880" y2="417.79" stroke="#000000" stroke-width="1.8"/>
<line x1="871.6" y1="442.22" x2="880" y2="442.22" stroke="#000000" stroke-width="1.8"/>
<line x1="976.8" y1="487.02" x2="976.8" y2="519.59" stroke="#000000" stroke-width="1.8"/>
<line x1="972.6" y1="487.02" x2="981" y2="487.02" stroke="#000000" stroke-width="1.8"/>
<line x1="972.6" y1="519.59" x2="981" y2="519.59" stroke="#000000" stroke-width="1.8"/>
<line x1="1077.8" y1="535.07" x2="1077.8" y2="569.27" stroke="#000000" stroke-width="1.8"/>
<line x1="1073.6" y1="535.07" x2="1082" y2="535.07" stroke="#000000" stroke-width="1.8"/>
<line x1="1073.6" y1="569.27" x2="1082" y2="569.27" stroke="#000000" stroke-width="1.8"/>
<line x1="1178.8" y1="415.76" x2="1178.8" y2="452.4" stroke="#000000" stroke-width="1.8"/>
<line x1="1174.6" y1="415.76" x2="1183" y2="415.76" stroke="#000000" stroke-width="1.8"/>
<line x1="1174.6" y1="452.4" x2="1183" y2="452.4" stroke="#000000" stroke-width="1.8"/>
<circle cx="774.8" cy="322.1" r="5.2" fill="#000000"/>
<circle cx="875.8" cy="430.01" r="5.2" fill="#000000"/>
<circle cx="976.8" cy="503.3" r="5.2" fill="#000000"/>
<circle cx="1077.8" cy="552.17" r="5.2" fill="#000000"/>
<circle cx="1178.8" cy="434.08" r="5.2" fill="#000000"/>
<polyline points="774.8,301.74 875.8,417.79 976.8,421.86 1077.8,539.95 1178.8,556.24" fill="none" stroke="#0000ff" stroke-width="2" stroke-linejoin="round"/>
<line x1="774.8" y1="285.45" x2="774.8" y2="318.03" stroke="#0000ff" stroke-width="1.8"/>
<line x1="770.6" y1="285.45" x2="779" y2="285.45" stroke="#0000ff" stroke-width="1.8"/>
<line x1="770.6" y1="318.03" x2="779" y2="318.03" stroke="#0000ff" stroke-width="1.8"/>
<line x1="875.8" y1="409.65" x2="875.8" y2="425.94" stroke="#0000ff" stroke-width="1.8"/>
<line x1="871.6" y1="409.65" x2="880" y2="409.65" stroke="#0000ff" stroke-width="1.8"/>
<line x1="871.6" y1="425.94" x2="880" y2="425.94" stroke="#0000ff" stroke-width="1.8"/>
<line x1="976.8" y1="411.68" x2="976.8" y2="432.04" stroke="#0000ff" stroke-width="1.8"/>
<line x1="972.6" y1="411.68" x2="981" y2="411.68" stroke="#0000ff" stroke-width="1.8"/>
<line x1="972.6" y1="432.04" x2="981" y2="432.04" stroke="#0000ff" stroke-width="1.8"/>
<line x1="1077.8" y1="535.88" x2="1077.8" y2="544.02" stroke="#0000ff" stroke-width="1.8"/>
<line x1="1073.6" y1="535.88" x2="1082" y2="535.88" stroke="#0000ff" stroke-width="1.8"/>
<line x1="1073.6" y1="544.02" x2="1082" y2="544.02" stroke="#0000ff" stroke-width="1.8"/>
<line x1="1178.8" y1="542.8" x2="1178.8" y2="569.68" stroke="#0000ff" stroke-width="1.8"/>
<line x1="1174.6" y1="542.8" x2="1183" y2="542.8" stroke="#0000ff" stroke-width="1.8"/>
<line x1="1174.6" y1="569.68" x2="1183" y2="569.68" stroke="#0000ff" stroke-width="1.8"/>
<rect x="770.2" y="297.14" width="9.2" height="9.2" fill="#0000ff"/>
<rect x="871.2" y="413.19" width="9.2" height="9.2" fill="#0000ff"/>
<rect x="972.2" y="417.26" width="9.2" height="9.2" fill="#0000ff"/>
<rect x="1073.2" y="535.35" width="9.2" height="9.2" fill="#0000ff"/>
<rect x="1174.2" y="551.64" width="9.2" height="9.2" fill="#0000ff"/>
</g>
<line x1="1143.6" y1="293.1" x2="1154.8" y2="293.1" stroke="#0000ff" stroke-width="1.9"/>
<line x1="1167.4" y1="293.1" x2="1178.4" y2="293.1" stroke="#0000ff" stroke-width="1.9"/>
<rect x="1156.63" y="288.73" width="8.74" height="8.74" fill="#0000ff"/>
<text x="1183" y="298.1" font-size="14" fill="#000" font-weight="bold" text-anchor="start">DCF</text>
<line x1="1143.6" y1="312.35" x2="1154.8" y2="312.35" stroke="#000000" stroke-width="1.9"/>
<line x1="1167.4" y1="312.35" x2="1178.4" y2="312.35" stroke="#000000" stroke-width="1.9"/>
<circle cx="1161" cy="312.35" r="4.94" fill="#000000"/>
<text x="1183" y="317.35" font-size="14" fill="#000" font-weight="bold" text-anchor="start">SAL</text>
<line x1="1143.6" y1="331.6" x2="1154.8" y2="331.6" stroke="#ff00ff" stroke-width="1.9"/>
<line x1="1167.4" y1="331.6" x2="1178.4" y2="331.6" stroke="#ff00ff" stroke-width="1.9"/>
<polygon points="1161,325.71 1166.89,336.02 1155.11,336.02" fill="#ff00ff"/>
<text x="1183" y="336.6" font-size="14" fill="#000" font-weight="bold" text-anchor="start">KPF</text>
<line x1="1143.6" y1="350.85" x2="1154.8" y2="350.85" stroke="#008000" stroke-width="1.9"/>
<line x1="1167.4" y1="350.85" x2="1178.4" y2="350.85" stroke="#008000" stroke-width="1.9"/>
<polygon points="1161,356.74 1166.89,346.43 1155.11,346.43" fill="#008000"/>
<text x="1183" y="355.85" font-size="14" fill="#000" font-weight="bold" text-anchor="start">PAR</text>
<line x1="1143.6" y1="370.1" x2="1154.8" y2="370.1" stroke="#ff0000" stroke-width="1.9"/>
<line x1="1167.4" y1="370.1" x2="1178.4" y2="370.1" stroke="#ff0000" stroke-width="1.9"/>
<rect x="1156.63" y="365.73" width="8.74" height="8.74" fill="#ff0000"/>
<text x="1183" y="375.1" font-size="14" fill="#000" font-weight="bold" text-anchor="start">IBF</text>
<line x1="1364.1" y1="653.6" x2="1370.6" y2="653.6" stroke="#222" stroke-width="1.8"/>
<line x1="1869.4" y1="653.6" x2="1875.4" y2="653.6" stroke="#222" stroke-width="1.8"/>
<text x="1361.5" y="660.1" font-size="18.5" fill="#000" font-weight="bold" text-anchor="end">2</text>
<line x1="1364.1" y1="608.2" x2="1370.6" y2="608.2" stroke="#222" stroke-width="1.8"/>
<line x1="1869.4" y1="608.2" x2="1875.4" y2="608.2" stroke="#222" stroke-width="1.8"/>
<text x="1361.5" y="614.7" font-size="18.5" fill="#000" font-weight="bold" text-anchor="end">3</text>
<line x1="1364.1" y1="562.8" x2="1370.6" y2="562.8" stroke="#222" stroke-width="1.8"/>
<line x1="1869.4" y1="562.8" x2="1875.4" y2="562.8" stroke="#222" stroke-width="1.8"/>
<text x="1361.5" y="569.3" font-size="18.5" fill="#000" font-weight="bold" text-anchor="end">4</text>
<line x1="1364.1" y1="517.4" x2="1370.6" y2="517.4" stroke="#222" stroke-width="1.8"/>
<line x1="1869.4" y1="517.4" x2="1875.4" y2="517.4" stroke="#222" stroke-width="1.8"/>
<text x="1361.5" y="523.9" font-size="18.5" fill="#000" font-weight="bold" text-anchor="end">5</text>
<line x1="1364.1" y1="472" x2="1370.6" y2="472" stroke="#222" stroke-width="1.8"/>
<line x1="1869.4" y1="472" x2="1875.4" y2="472" stroke="#222" stroke-width="1.8"/>
<text x="1361.5" y="478.5" font-size="18.5" fill="#000" font-weight="bold" text-anchor="end">6</text>
<line x1="1364.1" y1="426.6" x2="1370.6" y2="426.6" stroke="#222" stroke-width="1.8"/>
<line x1="1869.4" y1="426.6" x2="1875.4" y2="426.6" stroke="#222" stroke-width="1.8"/>
<text x="1361.5" y="433.1" font-size="18.5" fill="#000" font-weight="bold" text-anchor="end">7</text>
<line x1="1364.1" y1="381.2" x2="1370.6" y2="381.2" stroke="#222" stroke-width="1.8"/>
<line x1="1869.4" y1="381.2" x2="1875.4" y2="381.2" stroke="#222" stroke-width="1.8"/>
<text x="1361.5" y="387.7" font-size="18.5" fill="#000" font-weight="bold" text-anchor="end">8</text>
<line x1="1364.1" y1="335.8" x2="1370.6" y2="335.8" stroke="#222" stroke-width="1.8"/>
<line x1="1869.4" y1="335.8" x2="1875.4" y2="335.8" stroke="#222" stroke-width="1.8"/>
<text x="1361.5" y="342.3" font-size="18.5" fill="#000" font-weight="bold" text-anchor="end">9</text>
<line x1="1364.1" y1="290.4" x2="1370.6" y2="290.4" stroke="#222" stroke-width="1.8"/>
<line x1="1869.4" y1="290.4" x2="1875.4" y2="290.4" stroke="#222" stroke-width="1.8"/>
<text x="1361.5" y="296.9" font-size="18.5" fill="#000" font-weight="bold" text-anchor="end">10</text>
<line x1="1370.6" y1="675.6" x2="1370.6" y2="682.1" stroke="#222" stroke-width="1.8"/>
<text x="1370.6" y="704.8" font-size="18.5" fill="#000" font-weight="bold" text-anchor="middle">0</text>
<line x1="1414.17" y1="675.6" x2="1414.17" y2="682.1" stroke="#222" stroke-width="1.8"/>
<line x1="1414.17" y1="268" x2="1414.17" y2="274.5" stroke="#222" stroke-width="1.8"/>
<text x="1414.17" y="704.8" font-size="18.5" fill="#000" font-weight="bold" text-anchor="middle">25</text>
<line x1="1457.74" y1="675.6" x2="1457.74" y2="682.1" stroke="#222" stroke-width="1.8"/>
<line x1="1457.74" y1="268" x2="1457.74" y2="274.5" stroke="#222" stroke-width="1.8"/>
<text x="1457.74" y="704.8" font-size="18.5" fill="#000" font-weight="bold" text-anchor="middle">50</text>
<line x1="1501.31" y1="675.6" x2="1501.31" y2="682.1" stroke="#222" stroke-width="1.8"/>
<line x1="1501.31" y1="268" x2="1501.31" y2="274.5" stroke="#222" stroke-width="1.8"/>
<text x="1501.31" y="704.8" font-size="18.5" fill="#000" font-weight="bold" text-anchor="middle">75</text>
<line x1="1544.88" y1="675.6" x2="1544.88" y2="682.1" stroke="#222" stroke-width="1.8"/>
<line x1="1544.88" y1="268" x2="1544.88" y2="274.5" stroke="#222" stroke-width="1.8"/>
<text x="1544.88" y="704.8" font-size="18.5" fill="#000" font-weight="bold" text-anchor="middle">100</text>
<line x1="1588.45" y1="675.6" x2="1588.45" y2="682.1" stroke="#222" stroke-width="1.8"/>
<line x1="1588.45" y1="268" x2="1588.45" y2="274.5" stroke="#222" stroke-width="1.8"/>
<text x="1588.45" y="704.8" font-size="18.5" fill="#000" font-weight="bold" text-anchor="middle">125</text>
<line x1="1632.02" y1="675.6" x2="1632.02" y2="682.1" stroke="#222" stroke-width="1.8"/>
<line x1="1632.02" y1="268" x2="1632.02" y2="274.5" stroke="#222" stroke-width="1.8"/>
<text x="1632.02" y="704.8" font-size="18.5" fill="#000" font-weight="bold" text-anchor="middle">150</text>
<line x1="1675.59" y1="675.6" x2="1675.59" y2="682.1" stroke="#222" stroke-width="1.8"/>
<line x1="1675.59" y1="268" x2="1675.59" y2="274.5" stroke="#222" stroke-width="1.8"/>
<text x="1675.59" y="704.8" font-size="18.5" fill="#000" font-weight="bold" text-anchor="middle">175</text>
<line x1="1719.16" y1="675.6" x2="1719.16" y2="682.1" stroke="#222" stroke-width="1.8"/>
<line x1="1719.16" y1="268" x2="1719.16" y2="274.5" stroke="#222" stroke-width="1.8"/>
<text x="1719.16" y="704.8" font-size="18.5" fill="#000" font-weight="bold" text-anchor="middle">200</text>
<line x1="1762.73" y1="675.6" x2="1762.73" y2="682.1" stroke="#222" stroke-width="1.8"/>
<line x1="1762.73" y1="268" x2="1762.73" y2="274.5" stroke="#222" stroke-width="1.8"/>
<text x="1762.73" y="704.8" font-size="18.5" fill="#000" font-weight="bold" text-anchor="middle">225</text>
<line x1="1806.3" y1="675.6" x2="1806.3" y2="682.1" stroke="#222" stroke-width="1.8"/>
<line x1="1806.3" y1="268" x2="1806.3" y2="274.5" stroke="#222" stroke-width="1.8"/>
<text x="1806.3" y="704.8" font-size="18.5" fill="#000" font-weight="bold" text-anchor="middle">250</text>
<line x1="1847.6" y1="675.6" x2="1847.6" y2="682.1" stroke="#222" stroke-width="1.8"/>
<line x1="1847.6" y1="268" x2="1847.6" y2="274.5" stroke="#222" stroke-width="1.8"/>
<text x="1847.6" y="704.8" font-size="18.5" fill="#000" font-weight="bold" text-anchor="middle">1200</text>
<polyline points="1829.5,268 1370.6,268 1370.6,675.6 1829.5,675.6" fill="none" stroke="#222" stroke-width="2.2"/>
<polyline points="1843,268 1875.4,268 1875.4,675.6 1843,675.6" fill="none" stroke="#222" stroke-width="2.2"/>
<line x1="1827.8" y1="275.4" x2="1836.3" y2="261" stroke="#222" stroke-width="2"/>
<line x1="1836.8" y1="275.4" x2="1845.3" y2="261" stroke="#222" stroke-width="2"/>
<line x1="1827.8" y1="683" x2="1836.3" y2="668.6" stroke="#222" stroke-width="2"/>
<line x1="1836.8" y1="683" x2="1845.3" y2="668.6" stroke="#222" stroke-width="2"/>
<text x="1623" y="733.5" font-size="20.5" fill="#000" font-weight="bold" text-anchor="middle">t (min)</text>
<text x="0" y="0" font-size="21.5" font-weight="bold" text-anchor="middle" fill="#000" transform="translate(1325 457) rotate(-90)">C<tspan font-size="13" dy="4">e</tspan><tspan dy="-4"> (mg/L)</tspan></text>
<g clip-path="url(#cp2a)">
<polyline points="1370.6,290.4 1371.47,295.09 1372.34,299.44 1373.21,303.5 1374.09,307.29 1374.96,310.83 1375.83,314.15 1376.7,317.28 1377.57,320.21 1378.44,322.99 1379.31,325.6 1380.19,328.08 1381.06,330.43 1381.93,332.65 1382.8,334.77 1383.67,336.78 1384.54,338.7 1385.41,340.53 1386.29,342.27 1387.16,343.94 1388.03,345.54 1388.9,347.07 1389.77,348.53 1390.64,349.94 1391.51,351.28 1392.38,352.58 1393.26,353.83 1394.13,355.03 1395,356.18 1395.87,357.29 1396.74,358.37 1397.61,359.4 1398.48,360.4 1399.36,361.37 1400.23,362.3 1401.1,363.21 1401.97,364.08 1402.84,364.93 1403.71,365.75 1404.58,366.54 1405.46,367.31 1406.33,368.06 1407.2,368.79 1408.07,369.49 1408.94,370.18 1409.81,370.84 1410.68,371.49 1411.56,372.12 1412.43,372.73 1413.3,373.33 1414.17,373.91 1415.04,374.48 1415.91,375.03 1416.78,375.56 1417.66,376.09 1418.53,376.6 1419.4,377.1 1420.27,377.58 1421.14,378.06 1422.01,378.52 1422.88,378.98 1423.76,379.42 1424.63,379.85 1425.5,380.27 1426.37,380.69 1427.24,381.09 1428.11,381.49 1428.98,381.87 1429.86,382.25 1430.73,382.62 1431.6,382.99 1432.47,383.34 1433.34,383.69 1434.21,384.03 1435.08,384.37 1435.95,384.69 1436.83,385.02 1437.7,385.33 1438.57,385.64 1439.44,385.94 1440.31,386.24 1443.8,387.38 1447.28,388.43 1450.77,389.42 1454.25,390.34 1457.74,391.2 1461.23,392.01 1464.71,392.77 1468.2,393.49 1471.68,394.16 1475.17,394.8 1478.65,395.41 1482.14,395.98 1485.62,396.53 1489.11,397.05 1492.6,397.54 1496.08,398.01 1499.57,398.46 1503.05,398.89 1506.54,399.29 1510.02,399.69 1513.51,400.06 1517,400.42 1520.48,400.77 1523.97,401.1 1527.45,401.42 1530.94,401.72 1534.42,402.02 1537.91,402.3 1541.39,402.58 1544.88,402.84 1548.37,403.1 1551.85,403.34 1555.34,403.58 1558.82,403.81 1562.31,404.03 1565.79,404.25 1569.28,404.46 1572.76,404.66 1576.25,404.86 1579.74,405.05 1583.22,405.23 1586.71,405.41 1590.19,405.59 1593.68,405.75 1597.16,405.92 1600.65,406.08 1604.14,406.23 1607.62,406.39 1611.11,406.53 1614.59,406.68 1618.08,406.82 1621.56,406.95 1625.05,407.09 1628.53,407.22 1632.02,407.34 1635.51,407.47 1638.99,407.59 1642.48,407.7 1645.96,407.82 1649.45,407.93 1652.93,408.04 1656.42,408.15 1659.9,408.25 1663.39,408.35 1666.88,408.45 1670.36,408.55 1673.85,408.65 1677.33,408.74 1680.82,408.83 1684.3,408.92 1687.79,409.01 1691.28,409.1 1694.76,409.18 1698.25,409.27 1701.73,409.35 1705.22,409.43 1708.7,409.51 1712.19,409.58 1715.67,409.66 1719.16,409.73 1722.65,409.8 1726.13,409.87 1729.62,409.94 1733.1,410.01 1736.59,410.08 1740.07,410.15 1743.56,410.21 1747.04,410.27 1750.53,410.34 1754.02,410.4 1757.5,410.46 1760.99,410.52 1764.47,410.58 1767.96,410.64 1771.44,410.69 1774.93,410.75 1778.42,410.8 1781.9,410.86 1785.39,410.91 1788.87,410.96 1792.36,411.01 1795.84,411.06 1799.33,411.11 1802.81,411.16 1806.3,411.21 1809.79,411.26 1813.27,411.31 1816.76,411.35 1820.24,411.4 1823.73,411.44 1827.21,411.49 1830.7,411.53 1834.18,411.57" fill="none" stroke="#1a1a1a" stroke-width="2" stroke-linejoin="round"/>
<polyline points="1370.6,290.4 1371.47,296.2 1372.34,301.67 1373.21,306.86 1374.09,311.77 1374.96,316.43 1375.83,320.86 1376.7,325.07 1377.57,329.09 1378.44,332.92 1379.31,336.57 1380.19,340.07 1381.06,343.41 1381.93,346.61 1382.8,349.68 1383.67,352.63 1384.54,355.46 1385.41,358.17 1386.29,360.79 1387.16,363.3 1388.03,365.72 1388.9,368.06 1389.77,370.31 1390.64,372.48 1391.51,374.58 1392.38,376.61 1393.26,378.57 1394.13,380.46 1395,382.3 1395.87,384.08 1396.74,385.8 1397.61,387.47 1398.48,389.09 1399.36,390.66 1400.23,392.18 1401.1,393.66 1401.97,395.1 1402.84,396.5 1403.71,397.86 1404.58,399.18 1405.46,400.47 1406.33,401.72 1407.2,402.94 1408.07,404.13 1408.94,405.28 1409.81,406.41 1410.68,407.51 1411.56,408.58 1412.43,409.63 1413.3,410.65 1414.17,411.65 1415.04,412.63 1415.91,413.58 1416.78,414.51 1417.66,415.42 1418.53,416.3 1419.4,417.17 1420.27,418.02 1421.14,418.85 1422.01,419.67 1422.88,420.46 1423.76,421.24 1424.63,422.01 1425.5,422.75 1426.37,423.49 1427.24,424.2 1428.11,424.91 1428.98,425.6 1429.86,426.27 1430.73,426.93 1431.6,427.58 1432.47,428.22 1433.34,428.85 1434.21,429.46 1435.08,430.06 1435.95,430.66 1436.83,431.24 1437.7,431.81 1438.57,432.37 1439.44,432.92 1440.31,433.46 1443.8,435.53 1447.28,437.47 1450.77,439.28 1454.25,440.98 1457.74,442.58 1461.23,444.09 1464.71,445.51 1468.2,446.86 1471.68,448.13 1475.17,449.34 1478.65,450.49 1482.14,451.58 1485.62,452.61 1489.11,453.6 1492.6,454.55 1496.08,455.45 1499.57,456.31 1503.05,457.13 1506.54,457.92 1510.02,458.68 1513.51,459.41 1517,460.11 1520.48,460.78 1523.97,461.42 1527.45,462.04 1530.94,462.64 1534.42,463.22 1537.91,463.78 1541.39,464.31 1544.88,464.83 1548.37,465.33 1551.85,465.82 1555.34,466.29 1558.82,466.74 1562.31,467.18 1565.79,467.61 1569.28,468.02 1572.76,468.42 1576.25,468.81 1579.74,469.19 1583.22,469.55 1586.71,469.91 1590.19,470.26 1593.68,470.59 1597.16,470.92 1600.65,471.24 1604.14,471.55 1607.62,471.85 1611.11,472.15 1614.59,472.44 1618.08,472.72 1621.56,472.99 1625.05,473.25 1628.53,473.51 1632.02,473.77 1635.51,474.02 1638.99,474.26 1642.48,474.49 1645.96,474.72 1649.45,474.95 1652.93,475.17 1656.42,475.39 1659.9,475.6 1663.39,475.8 1666.88,476 1670.36,476.2 1673.85,476.4 1677.33,476.59 1680.82,476.77 1684.3,476.95 1687.79,477.13 1691.28,477.31 1694.76,477.48 1698.25,477.65 1701.73,477.81 1705.22,477.97 1708.7,478.13 1712.19,478.29 1715.67,478.44 1719.16,478.59 1722.65,478.74 1726.13,478.88 1729.62,479.02 1733.1,479.16 1736.59,479.3 1740.07,479.43 1743.56,479.56 1747.04,479.69 1750.53,479.82 1754.02,479.95 1757.5,480.07 1760.99,480.19 1764.47,480.31 1767.96,480.43 1771.44,480.54 1774.93,480.66 1778.42,480.77 1781.9,480.88 1785.39,480.99 1788.87,481.09 1792.36,481.2 1795.84,481.3 1799.33,481.4 1802.81,481.51 1806.3,481.6 1809.79,481.7 1813.27,481.8 1816.76,481.89 1820.24,481.98 1823.73,482.08 1827.21,482.17 1830.7,482.26 1834.18,482.34" fill="none" stroke="#1a1a1a" stroke-width="2" stroke-linejoin="round"/>
<polyline points="1370.6,290.4 1371.47,302.19 1372.34,312.96 1373.21,322.84 1374.09,331.93 1374.96,340.32 1375.83,348.1 1376.7,355.32 1377.57,362.04 1378.44,368.32 1379.31,374.2 1380.19,379.71 1381.06,384.89 1381.93,389.76 1382.8,394.36 1383.67,398.7 1384.54,402.81 1385.41,406.7 1386.29,410.39 1387.16,413.9 1388.03,417.24 1388.9,420.42 1389.77,423.45 1390.64,426.35 1391.51,429.11 1392.38,431.76 1393.26,434.29 1394.13,436.72 1395,439.05 1395.87,441.29 1396.74,443.44 1397.61,445.51 1398.48,447.5 1399.36,449.41 1400.23,451.26 1401.1,453.04 1401.97,454.76 1402.84,456.42 1403.71,458.02 1404.58,459.57 1405.46,461.07 1406.33,462.52 1407.2,463.92 1408.07,465.28 1408.94,466.6 1409.81,467.88 1410.68,469.12 1411.56,470.33 1412.43,471.5 1413.3,472.63 1414.17,473.74 1415.04,474.81 1415.91,475.86 1416.78,476.87 1417.66,477.86 1418.53,478.82 1419.4,479.76 1420.27,480.68 1421.14,481.57 1422.01,482.44 1422.88,483.28 1423.76,484.11 1424.63,484.92 1425.5,485.71 1426.37,486.47 1427.24,487.23 1428.11,487.96 1428.98,488.68 1429.86,489.38 1430.73,490.06 1431.6,490.74 1432.47,491.39 1433.34,492.03 1434.21,492.66 1435.08,493.28 1435.95,493.88 1436.83,494.47 1437.7,495.05 1438.57,495.61 1439.44,496.17 1440.31,496.71 1443.8,498.79 1447.28,500.71 1450.77,502.49 1454.25,504.15 1457.74,505.71 1461.23,507.16 1464.71,508.52 1468.2,509.81 1471.68,511.01 1475.17,512.15 1478.65,513.23 1482.14,514.24 1485.62,515.21 1489.11,516.12 1492.6,517 1496.08,517.82 1499.57,518.61 1503.05,519.36 1506.54,520.08 1510.02,520.77 1513.51,521.43 1517,522.06 1520.48,522.66 1523.97,523.24 1527.45,523.79 1530.94,524.33 1534.42,524.84 1537.91,525.34 1541.39,525.81 1544.88,526.27 1548.37,526.71 1551.85,527.14 1555.34,527.55 1558.82,527.95 1562.31,528.34 1565.79,528.71 1569.28,529.07 1572.76,529.42 1576.25,529.76 1579.74,530.09 1583.22,530.4 1586.71,530.71 1590.19,531.01 1593.68,531.3 1597.16,531.59 1600.65,531.86 1604.14,532.13 1607.62,532.39 1611.11,532.64 1614.59,532.89 1618.08,533.13 1621.56,533.36 1625.05,533.59 1628.53,533.81 1632.02,534.03 1635.51,534.24 1638.99,534.44 1642.48,534.64 1645.96,534.84 1649.45,535.03 1652.93,535.22 1656.42,535.4 1659.9,535.58 1663.39,535.76 1666.88,535.93 1670.36,536.09 1673.85,536.26 1677.33,536.42 1680.82,536.57 1684.3,536.73 1687.79,536.88 1691.28,537.02 1694.76,537.17 1698.25,537.31 1701.73,537.45 1705.22,537.58 1708.7,537.72 1712.19,537.85 1715.67,537.97 1719.16,538.1 1722.65,538.22 1726.13,538.34 1729.62,538.46 1733.1,538.58 1736.59,538.69 1740.07,538.8 1743.56,538.91 1747.04,539.02 1750.53,539.13 1754.02,539.23 1757.5,539.34 1760.99,539.44 1764.47,539.54 1767.96,539.63 1771.44,539.73 1774.93,539.82 1778.42,539.92 1781.9,540.01 1785.39,540.1 1788.87,540.19 1792.36,540.27 1795.84,540.36 1799.33,540.44 1802.81,540.53 1806.3,540.61 1809.79,540.69 1813.27,540.77 1816.76,540.85 1820.24,540.92 1823.73,541 1827.21,541.07 1830.7,541.15 1834.18,541.22" fill="none" stroke="#1a1a1a" stroke-width="2" stroke-linejoin="round"/>
<polyline points="1370.6,290.4 1371.47,302.05 1372.34,312.8 1373.21,322.74 1374.09,331.97 1374.96,340.56 1375.83,348.57 1376.7,356.06 1377.57,363.08 1378.44,369.67 1379.31,375.87 1380.19,381.72 1381.06,387.24 1381.93,392.45 1382.8,397.4 1383.67,402.08 1384.54,406.53 1385.41,410.77 1386.29,414.8 1387.16,418.64 1388.03,422.3 1388.9,425.81 1389.77,429.15 1390.64,432.36 1391.51,435.43 1392.38,438.38 1393.26,441.21 1394.13,443.92 1395,446.53 1395.87,449.05 1396.74,451.47 1397.61,453.8 1398.48,456.04 1399.36,458.21 1400.23,460.3 1401.1,462.33 1401.97,464.28 1402.84,466.17 1403.71,468 1404.58,469.77 1405.46,471.48 1406.33,473.15 1407.2,474.76 1408.07,476.32 1408.94,477.84 1409.81,479.31 1410.68,480.74 1411.56,482.13 1412.43,483.48 1413.3,484.8 1414.17,486.08 1415.04,487.32 1415.91,488.53 1416.78,489.71 1417.66,490.86 1418.53,491.98 1419.4,493.08 1420.27,494.14 1421.14,495.18 1422.01,496.19 1422.88,497.18 1423.76,498.15 1424.63,499.1 1425.5,500.02 1426.37,500.92 1427.24,501.8 1428.11,502.66 1428.98,503.5 1429.86,504.33 1430.73,505.13 1431.6,505.92 1432.47,506.7 1433.34,507.45 1434.21,508.19 1435.08,508.92 1435.95,509.63 1436.83,510.33 1437.7,511.01 1438.57,511.68 1439.44,512.34 1440.31,512.98 1443.8,515.43 1447.28,517.71 1450.77,519.84 1454.25,521.82 1457.74,523.67 1461.23,525.41 1464.71,527.04 1468.2,528.57 1471.68,530.02 1475.17,531.39 1478.65,532.68 1482.14,533.9 1485.62,535.06 1489.11,536.17 1492.6,537.22 1496.08,538.22 1499.57,539.17 1503.05,540.08 1506.54,540.95 1510.02,541.78 1513.51,542.58 1517,543.34 1520.48,544.07 1523.97,544.77 1527.45,545.45 1530.94,546.1 1534.42,546.72 1537.91,547.32 1541.39,547.9 1544.88,548.46 1548.37,549 1551.85,549.52 1555.34,550.02 1558.82,550.51 1562.31,550.98 1565.79,551.43 1569.28,551.87 1572.76,552.3 1576.25,552.71 1579.74,553.11 1583.22,553.5 1586.71,553.88 1590.19,554.24 1593.68,554.6 1597.16,554.95 1600.65,555.28 1604.14,555.61 1607.62,555.93 1611.11,556.24 1614.59,556.54 1618.08,556.83 1621.56,557.12 1625.05,557.4 1628.53,557.67 1632.02,557.94 1635.51,558.2 1638.99,558.45 1642.48,558.69 1645.96,558.93 1649.45,559.17 1652.93,559.4 1656.42,559.62 1659.9,559.84 1663.39,560.06 1666.88,560.27 1670.36,560.47 1673.85,560.67 1677.33,560.87 1680.82,561.06 1684.3,561.25 1687.79,561.44 1691.28,561.62 1694.76,561.79 1698.25,561.97 1701.73,562.14 1705.22,562.3 1708.7,562.47 1712.19,562.63 1715.67,562.79 1719.16,562.94 1722.65,563.09 1726.13,563.24 1729.62,563.39 1733.1,563.53 1736.59,563.67 1740.07,563.81 1743.56,563.94 1747.04,564.08 1750.53,564.21 1754.02,564.34 1757.5,564.46 1760.99,564.59 1764.47,564.71 1767.96,564.83 1771.44,564.95 1774.93,565.07 1778.42,565.18 1781.9,565.29 1785.39,565.4 1788.87,565.51 1792.36,565.62 1795.84,565.73 1799.33,565.83 1802.81,565.93 1806.3,566.03 1809.79,566.13 1813.27,566.23 1816.76,566.33 1820.24,566.42 1823.73,566.52 1827.21,566.61 1830.7,566.7 1834.18,566.79" fill="none" stroke="#1a1a1a" stroke-width="2" stroke-linejoin="round"/>
<polyline points="1370.6,290.4 1371.47,320.75 1372.34,346.55 1373.21,368.74 1374.09,388.04 1374.96,404.98 1375.83,419.96 1376.7,433.3 1377.57,445.26 1378.44,456.05 1379.31,465.83 1380.19,474.72 1381.06,482.86 1381.93,490.33 1382.8,497.21 1383.67,503.56 1384.54,509.45 1385.41,514.92 1386.29,520.02 1387.16,524.79 1388.03,529.25 1388.9,533.43 1389.77,537.36 1390.64,541.07 1391.51,544.56 1392.38,547.86 1393.26,550.99 1394.13,553.95 1395,556.76 1395.87,559.43 1396.74,561.98 1397.61,564.4 1398.48,566.71 1399.36,568.91 1400.23,571.02 1401.1,573.04 1401.97,574.97 1402.84,576.83 1403.71,578.6 1404.58,580.31 1405.46,581.95 1406.33,583.53 1407.2,585.05 1408.07,586.51 1408.94,587.92 1409.81,589.28 1410.68,590.59 1411.56,591.86 1412.43,593.08 1413.3,594.27 1414.17,595.41 1415.04,596.52 1415.91,597.59 1416.78,598.63 1417.66,599.64 1418.53,600.62 1419.4,601.57 1420.27,602.49 1421.14,603.38 1422.01,604.25 1422.88,605.1 1423.76,605.92 1424.63,606.72 1425.5,607.49 1426.37,608.25 1427.24,608.99 1428.11,609.71 1428.98,610.41 1429.86,611.09 1430.73,611.75 1431.6,612.4 1432.47,613.03 1433.34,613.65 1434.21,614.25 1435.08,614.84 1435.95,615.42 1436.83,615.98 1437.7,616.53 1438.57,617.07 1439.44,617.59 1440.31,618.11 1443.8,620.05 1447.28,621.84 1450.77,623.49 1454.25,625.02 1457.74,626.44 1461.23,627.76 1464.71,628.99 1468.2,630.14 1471.68,631.22 1475.17,632.24 1478.65,633.19 1482.14,634.09 1485.62,634.94 1489.11,635.74 1492.6,636.5 1496.08,637.22 1499.57,637.9 1503.05,638.56 1506.54,639.18 1510.02,639.77 1513.51,640.33 1517,640.87 1520.48,641.39 1523.97,641.88 1527.45,642.35 1530.94,642.81 1534.42,643.24 1537.91,643.66 1541.39,644.06 1544.88,644.45 1548.37,644.82 1551.85,645.18 1555.34,645.53 1558.82,645.86 1562.31,646.18 1565.79,646.49 1569.28,646.79 1572.76,647.08 1576.25,647.37 1579.74,647.64 1583.22,647.9 1586.71,648.16 1590.19,648.41 1593.68,648.65 1597.16,648.88 1600.65,649.11 1604.14,649.33 1607.62,649.54 1611.11,649.75 1614.59,649.95 1618.08,650.15 1621.56,650.34 1625.05,650.53 1628.53,650.71 1632.02,650.89 1635.51,651.06 1638.99,651.23 1642.48,651.39 1645.96,651.55 1649.45,651.71 1652.93,651.86 1656.42,652.01 1659.9,652.16 1663.39,652.3 1666.88,652.44 1670.36,652.57 1673.85,652.71 1677.33,652.84 1680.82,652.96 1684.3,653.09 1687.79,653.21 1691.28,653.33 1694.76,653.44 1698.25,653.56 1701.73,653.67 1705.22,653.78 1708.7,653.89 1712.19,653.99 1715.67,654.09 1719.16,654.2 1722.65,654.3 1726.13,654.39 1729.62,654.49 1733.1,654.58 1736.59,654.67 1740.07,654.76 1743.56,654.85 1747.04,654.94 1750.53,655.02 1754.02,655.11 1757.5,655.19 1760.99,655.27 1764.47,655.35 1767.96,655.43 1771.44,655.51 1774.93,655.58 1778.42,655.66 1781.9,655.73 1785.39,655.8 1788.87,655.87 1792.36,655.94 1795.84,656.01 1799.33,656.08 1802.81,656.15 1806.3,656.21 1809.79,656.27 1813.27,656.34 1816.76,656.4 1820.24,656.46 1823.73,656.52 1827.21,656.58 1830.7,656.64 1834.18,656.7" fill="none" stroke="#1a1a1a" stroke-width="2" stroke-linejoin="round"/>
<polyline points="1370.6,290.4 1371.47,294.51 1372.34,298.49 1373.21,302.34 1374.09,306.06 1374.96,309.67 1375.83,313.16 1376.7,316.54 1377.57,319.82 1378.44,322.98 1379.31,326.05 1380.19,329.02 1381.06,331.89 1381.93,334.67 1382.8,337.37 1383.67,339.97 1384.54,342.5 1385.41,344.94 1386.29,347.3 1387.16,349.59 1388.03,351.81 1388.9,353.95 1389.77,356.03 1390.64,358.04 1391.51,359.99 1392.38,361.87 1393.26,363.69 1394.13,365.46 1395,367.16 1395.87,368.82 1396.74,370.42 1397.61,371.97 1398.48,373.47 1399.36,374.92 1400.23,376.33 1401.1,377.69 1401.97,379.01 1402.84,380.28 1403.71,381.51 1404.58,382.71 1405.46,383.87 1406.33,384.99 1407.2,386.07 1408.07,387.12 1408.94,388.14 1409.81,389.12 1410.68,390.07 1411.56,390.99 1412.43,391.88 1413.3,392.75 1414.17,393.58 1415.04,394.39 1415.91,395.17 1416.78,395.93 1417.66,396.67 1418.53,397.38 1419.4,398.06 1420.27,398.73 1421.14,399.37 1422.01,400 1422.88,400.6 1423.76,401.19 1424.63,401.75 1425.5,402.3 1426.37,402.83 1427.24,403.34 1428.11,403.84 1428.98,404.32 1429.86,404.79 1430.73,405.24 1431.6,405.67 1432.47,406.1 1433.34,406.51 1434.21,406.9 1435.08,407.28 1435.95,407.66 1436.83,408.01 1437.7,408.36 1438.57,408.7 1439.44,409.02 1440.31,409.34 1443.8,410.5 1447.28,411.52 1450.77,412.42 1454.25,413.21 1457.74,413.9 1461.23,414.51 1464.71,415.04 1468.2,415.51 1471.68,415.92 1475.17,416.28 1478.65,416.6 1482.14,416.88 1485.62,417.12 1489.11,417.34 1492.6,417.52 1496.08,417.69 1499.57,417.84 1503.05,417.96 1506.54,418.07 1510.02,418.17 1513.51,418.26 1517,418.34 1520.48,418.4 1523.97,418.46 1527.45,418.51 1530.94,418.56 1534.42,418.6 1537.91,418.63 1541.39,418.66 1544.88,418.69 1548.37,418.71 1551.85,418.73 1555.34,418.75 1558.82,418.77 1562.31,418.78 1565.79,418.79 1569.28,418.8 1572.76,418.81 1576.25,418.82 1579.74,418.83 1583.22,418.84 1586.71,418.84 1590.19,418.85 1593.68,418.85 1597.16,418.85 1600.65,418.86 1604.14,418.86 1607.62,418.86 1611.11,418.87 1614.59,418.87 1618.08,418.87 1621.56,418.87 1625.05,418.87 1628.53,418.87 1632.02,418.87 1635.51,418.88 1638.99,418.88 1642.48,418.88 1645.96,418.88 1649.45,418.88 1652.93,418.88 1656.42,418.88 1659.9,418.88 1663.39,418.88 1666.88,418.88 1670.36,418.88 1673.85,418.88 1677.33,418.88 1680.82,418.88 1684.3,418.88 1687.79,418.88 1691.28,418.88 1694.76,418.88 1698.25,418.88 1701.73,418.88 1705.22,418.88 1708.7,418.88 1712.19,418.88 1715.67,418.88 1719.16,418.88 1722.65,418.88 1726.13,418.88 1729.62,418.88 1733.1,418.88 1736.59,418.88 1740.07,418.88 1743.56,418.88 1747.04,418.88 1750.53,418.88 1754.02,418.88 1757.5,418.88 1760.99,418.88 1764.47,418.88 1767.96,418.88 1771.44,418.88 1774.93,418.88 1778.42,418.88 1781.9,418.88 1785.39,418.88 1788.87,418.88 1792.36,418.88 1795.84,418.88 1799.33,418.88 1802.81,418.88 1806.3,418.88 1809.79,418.88 1813.27,418.88 1816.76,418.88 1820.24,418.88 1823.73,418.88 1827.21,418.88 1830.7,418.88 1834.18,418.88" fill="none" stroke="#ff2a2a" stroke-width="2" stroke-dasharray="6 4.5" stroke-linejoin="round"/>
<polyline points="1370.6,290.4 1371.47,293.04 1372.34,295.64 1373.21,298.21 1374.09,300.75 1374.96,303.26 1375.83,305.73 1376.7,308.17 1377.57,310.58 1378.44,312.96 1379.31,315.31 1380.19,317.62 1381.06,319.91 1381.93,322.17 1382.8,324.4 1383.67,326.59 1384.54,328.77 1385.41,330.91 1386.29,333.02 1387.16,335.11 1388.03,337.17 1388.9,339.21 1389.77,341.22 1390.64,343.2 1391.51,345.16 1392.38,347.09 1393.26,348.99 1394.13,350.88 1395,352.73 1395.87,354.57 1396.74,356.38 1397.61,358.16 1398.48,359.93 1399.36,361.67 1400.23,363.39 1401.1,365.08 1401.97,366.76 1402.84,368.41 1403.71,370.04 1404.58,371.65 1405.46,373.24 1406.33,374.81 1407.2,376.36 1408.07,377.89 1408.94,379.39 1409.81,380.88 1410.68,382.35 1411.56,383.8 1412.43,385.24 1413.3,386.65 1414.17,388.05 1415.04,389.42 1415.91,390.78 1416.78,392.13 1417.66,393.45 1418.53,394.76 1419.4,396.05 1420.27,397.32 1421.14,398.58 1422.01,399.82 1422.88,401.05 1423.76,402.26 1424.63,403.45 1425.5,404.63 1426.37,405.79 1427.24,406.94 1428.11,408.07 1428.98,409.19 1429.86,410.3 1430.73,411.39 1431.6,412.46 1432.47,413.53 1433.34,414.57 1434.21,415.61 1435.08,416.63 1435.95,417.64 1436.83,418.63 1437.7,419.62 1438.57,420.59 1439.44,421.54 1440.31,422.49 1443.8,426.15 1447.28,429.62 1450.77,432.92 1454.25,436.05 1457.74,439.02 1461.23,441.84 1464.71,444.52 1468.2,447.06 1471.68,449.48 1475.17,451.77 1478.65,453.94 1482.14,456.01 1485.62,457.97 1489.11,459.83 1492.6,461.6 1496.08,463.28 1499.57,464.87 1503.05,466.38 1506.54,467.81 1510.02,469.18 1513.51,470.47 1517,471.7 1520.48,472.86 1523.97,473.97 1527.45,475.02 1530.94,476.02 1534.42,476.96 1537.91,477.86 1541.39,478.72 1544.88,479.53 1548.37,480.29 1551.85,481.02 1555.34,481.72 1558.82,482.38 1562.31,483 1565.79,483.59 1569.28,484.16 1572.76,484.69 1576.25,485.2 1579.74,485.68 1583.22,486.14 1586.71,486.57 1590.19,486.98 1593.68,487.37 1597.16,487.74 1600.65,488.1 1604.14,488.43 1607.62,488.75 1611.11,489.05 1614.59,489.34 1618.08,489.61 1621.56,489.87 1625.05,490.11 1628.53,490.34 1632.02,490.56 1635.51,490.77 1638.99,490.97 1642.48,491.16 1645.96,491.34 1649.45,491.51 1652.93,491.67 1656.42,491.83 1659.9,491.97 1663.39,492.11 1666.88,492.24 1670.36,492.37 1673.85,492.48 1677.33,492.6 1680.82,492.7 1684.3,492.8 1687.79,492.9 1691.28,492.99 1694.76,493.08 1698.25,493.16 1701.73,493.24 1705.22,493.31 1708.7,493.38 1712.19,493.45 1715.67,493.51 1719.16,493.57 1722.65,493.63 1726.13,493.68 1729.62,493.74 1733.1,493.78 1736.59,493.83 1740.07,493.88 1743.56,493.92 1747.04,493.96 1750.53,493.99 1754.02,494.03 1757.5,494.06 1760.99,494.1 1764.47,494.13 1767.96,494.16 1771.44,494.18 1774.93,494.21 1778.42,494.23 1781.9,494.26 1785.39,494.28 1788.87,494.3 1792.36,494.32 1795.84,494.34 1799.33,494.36 1802.81,494.38 1806.3,494.39 1809.79,494.41 1813.27,494.42 1816.76,494.44 1820.24,494.45 1823.73,494.46 1827.21,494.48 1830.7,494.49 1834.18,494.5" fill="none" stroke="#ff2a2a" stroke-width="2" stroke-dasharray="6 4.5" stroke-linejoin="round"/>
<polyline points="1370.6,290.4 1371.47,295.19 1372.34,299.88 1373.21,304.49 1374.09,309.02 1374.96,313.46 1375.83,317.83 1376.7,322.11 1377.57,326.31 1378.44,330.44 1379.31,334.49 1380.19,338.47 1381.06,342.37 1381.93,346.2 1382.8,349.97 1383.67,353.66 1384.54,357.28 1385.41,360.84 1386.29,364.34 1387.16,367.77 1388.03,371.13 1388.9,374.44 1389.77,377.68 1390.64,380.87 1391.51,384 1392.38,387.06 1393.26,390.08 1394.13,393.04 1395,395.94 1395.87,398.79 1396.74,401.59 1397.61,404.34 1398.48,407.03 1399.36,409.68 1400.23,412.28 1401.1,414.83 1401.97,417.33 1402.84,419.79 1403.71,422.2 1404.58,424.57 1405.46,426.9 1406.33,429.18 1407.2,431.42 1408.07,433.62 1408.94,435.78 1409.81,437.9 1410.68,439.98 1411.56,442.03 1412.43,444.03 1413.3,446 1414.17,447.94 1415.04,449.83 1415.91,451.7 1416.78,453.52 1417.66,455.32 1418.53,457.08 1419.4,458.81 1420.27,460.51 1421.14,462.18 1422.01,463.81 1422.88,465.42 1423.76,467 1424.63,468.54 1425.5,470.06 1426.37,471.56 1427.24,473.02 1428.11,474.46 1428.98,475.87 1429.86,477.25 1430.73,478.61 1431.6,479.95 1432.47,481.26 1433.34,482.55 1434.21,483.81 1435.08,485.05 1435.95,486.27 1436.83,487.46 1437.7,488.63 1438.57,489.79 1439.44,490.92 1440.31,492.03 1443.8,496.26 1447.28,500.2 1450.77,503.86 1454.25,507.25 1457.74,510.4 1461.23,513.33 1464.71,516.05 1468.2,518.58 1471.68,520.92 1475.17,523.1 1478.65,525.12 1482.14,527 1485.62,528.74 1489.11,530.36 1492.6,531.87 1496.08,533.26 1499.57,534.56 1503.05,535.76 1506.54,536.88 1510.02,537.92 1513.51,538.89 1517,539.78 1520.48,540.62 1523.97,541.39 1527.45,542.11 1530.94,542.77 1534.42,543.39 1537.91,543.97 1541.39,544.5 1544.88,545 1548.37,545.46 1551.85,545.88 1555.34,546.28 1558.82,546.65 1562.31,546.99 1565.79,547.31 1569.28,547.61 1572.76,547.88 1576.25,548.13 1579.74,548.37 1583.22,548.59 1586.71,548.79 1590.19,548.98 1593.68,549.16 1597.16,549.32 1600.65,549.47 1604.14,549.62 1607.62,549.75 1611.11,549.87 1614.59,549.98 1618.08,550.09 1621.56,550.18 1625.05,550.27 1628.53,550.36 1632.02,550.44 1635.51,550.51 1638.99,550.57 1642.48,550.64 1645.96,550.7 1649.45,550.75 1652.93,550.8 1656.42,550.85 1659.9,550.89 1663.39,550.93 1666.88,550.97 1670.36,551 1673.85,551.03 1677.33,551.06 1680.82,551.09 1684.3,551.12 1687.79,551.14 1691.28,551.16 1694.76,551.18 1698.25,551.2 1701.73,551.22 1705.22,551.24 1708.7,551.25 1712.19,551.26 1715.67,551.28 1719.16,551.29 1722.65,551.3 1726.13,551.31 1729.62,551.32 1733.1,551.33 1736.59,551.34 1740.07,551.35 1743.56,551.35 1747.04,551.36 1750.53,551.37 1754.02,551.37 1757.5,551.38 1760.99,551.38 1764.47,551.39 1767.96,551.39 1771.44,551.4 1774.93,551.4 1778.42,551.4 1781.9,551.41 1785.39,551.41 1788.87,551.41 1792.36,551.42 1795.84,551.42 1799.33,551.42 1802.81,551.42 1806.3,551.42 1809.79,551.43 1813.27,551.43 1816.76,551.43 1820.24,551.43 1823.73,551.43 1827.21,551.43 1830.7,551.44 1834.18,551.44" fill="none" stroke="#ff2a2a" stroke-width="2" stroke-dasharray="6 4.5" stroke-linejoin="round"/>
<polyline points="1370.6,290.4 1371.47,295.68 1372.34,300.87 1373.21,305.96 1374.09,310.96 1374.96,315.87 1375.83,320.69 1376.7,325.42 1377.57,330.06 1378.44,334.62 1379.31,339.09 1380.19,343.48 1381.06,347.79 1381.93,352.03 1382.8,356.18 1383.67,360.26 1384.54,364.26 1385.41,368.19 1386.29,372.05 1387.16,375.84 1388.03,379.56 1388.9,383.21 1389.77,386.79 1390.64,390.31 1391.51,393.76 1392.38,397.15 1393.26,400.48 1394.13,403.75 1395,406.95 1395.87,410.1 1396.74,413.19 1397.61,416.22 1398.48,419.2 1399.36,422.13 1400.23,425 1401.1,427.81 1401.97,430.58 1402.84,433.29 1403.71,435.96 1404.58,438.57 1405.46,441.14 1406.33,443.66 1407.2,446.14 1408.07,448.57 1408.94,450.95 1409.81,453.3 1410.68,455.59 1411.56,457.85 1412.43,460.07 1413.3,462.24 1414.17,464.37 1415.04,466.47 1415.91,468.53 1416.78,470.55 1417.66,472.53 1418.53,474.47 1419.4,476.38 1420.27,478.26 1421.14,480.1 1422.01,481.91 1422.88,483.68 1423.76,485.42 1424.63,487.13 1425.5,488.81 1426.37,490.46 1427.24,492.08 1428.11,493.66 1428.98,495.22 1429.86,496.75 1430.73,498.25 1431.6,499.73 1432.47,501.18 1433.34,502.6 1434.21,503.99 1435.08,505.36 1435.95,506.7 1436.83,508.02 1437.7,509.32 1438.57,510.59 1439.44,511.84 1440.31,513.06 1443.8,517.75 1447.28,522.09 1450.77,526.13 1454.25,529.88 1457.74,533.36 1461.23,536.59 1464.71,539.6 1468.2,542.38 1471.68,544.97 1475.17,547.38 1478.65,549.61 1482.14,551.69 1485.62,553.61 1489.11,555.4 1492.6,557.06 1496.08,558.61 1499.57,560.04 1503.05,561.37 1506.54,562.6 1510.02,563.75 1513.51,564.82 1517,565.81 1520.48,566.73 1523.97,567.58 1527.45,568.37 1530.94,569.11 1534.42,569.79 1537.91,570.43 1541.39,571.02 1544.88,571.56 1548.37,572.07 1551.85,572.54 1555.34,572.98 1558.82,573.39 1562.31,573.77 1565.79,574.12 1569.28,574.44 1572.76,574.75 1576.25,575.03 1579.74,575.29 1583.22,575.53 1586.71,575.76 1590.19,575.97 1593.68,576.16 1597.16,576.34 1600.65,576.51 1604.14,576.66 1607.62,576.81 1611.11,576.94 1614.59,577.07 1618.08,577.18 1621.56,577.29 1625.05,577.39 1628.53,577.48 1632.02,577.57 1635.51,577.65 1638.99,577.72 1642.48,577.79 1645.96,577.86 1649.45,577.92 1652.93,577.97 1656.42,578.02 1659.9,578.07 1663.39,578.11 1666.88,578.16 1670.36,578.19 1673.85,578.23 1677.33,578.26 1680.82,578.29 1684.3,578.32 1687.79,578.35 1691.28,578.37 1694.76,578.39 1698.25,578.42 1701.73,578.43 1705.22,578.45 1708.7,578.47 1712.19,578.49 1715.67,578.5 1719.16,578.51 1722.65,578.53 1726.13,578.54 1729.62,578.55 1733.1,578.56 1736.59,578.57 1740.07,578.58 1743.56,578.59 1747.04,578.59 1750.53,578.6 1754.02,578.61 1757.5,578.61 1760.99,578.62 1764.47,578.62 1767.96,578.63 1771.44,578.63 1774.93,578.64 1778.42,578.64 1781.9,578.64 1785.39,578.65 1788.87,578.65 1792.36,578.65 1795.84,578.66 1799.33,578.66 1802.81,578.66 1806.3,578.66 1809.79,578.66 1813.27,578.67 1816.76,578.67 1820.24,578.67 1823.73,578.67 1827.21,578.67 1830.7,578.67 1834.18,578.67" fill="none" stroke="#ff2a2a" stroke-width="2" stroke-dasharray="6 4.5" stroke-linejoin="round"/>
<polyline points="1370.6,290.4 1371.47,311.2 1372.34,330.84 1373.21,349.38 1374.09,366.89 1374.96,383.42 1375.83,399.02 1376.7,413.76 1377.57,427.67 1378.44,440.8 1379.31,453.2 1380.19,464.9 1381.06,475.95 1381.93,486.39 1382.8,496.24 1383.67,505.54 1384.54,514.32 1385.41,522.61 1386.29,530.44 1387.16,537.83 1388.03,544.8 1388.9,551.39 1389.77,557.61 1390.64,563.48 1391.51,569.02 1392.38,574.26 1393.26,579.2 1394.13,583.86 1395,588.27 1395.87,592.42 1396.74,596.35 1397.61,600.06 1398.48,603.56 1399.36,606.86 1400.23,609.98 1401.1,612.92 1401.97,615.7 1402.84,618.33 1403.71,620.81 1404.58,623.15 1405.46,625.36 1406.33,627.44 1407.2,629.41 1408.07,631.27 1408.94,633.02 1409.81,634.68 1410.68,636.25 1411.56,637.72 1412.43,639.12 1413.3,640.43 1414.17,641.68 1415.04,642.85 1415.91,643.96 1416.78,645.01 1417.66,645.99 1418.53,646.93 1419.4,647.81 1420.27,648.64 1421.14,649.42 1422.01,650.16 1422.88,650.86 1423.76,651.52 1424.63,652.15 1425.5,652.73 1426.37,653.29 1427.24,653.81 1428.11,654.31 1428.98,654.78 1429.86,655.22 1430.73,655.64 1431.6,656.03 1432.47,656.4 1433.34,656.75 1434.21,657.08 1435.08,657.4 1435.95,657.69 1436.83,657.97 1437.7,658.23 1438.57,658.48 1439.44,658.72 1440.31,658.94 1443.8,659.71 1447.28,660.32 1450.77,660.8 1454.25,661.19 1457.74,661.5 1461.23,661.74 1464.71,661.93 1468.2,662.09 1471.68,662.21 1475.17,662.3 1478.65,662.38 1482.14,662.44 1485.62,662.49 1489.11,662.53 1492.6,662.56 1496.08,662.59 1499.57,662.61 1503.05,662.62 1506.54,662.63 1510.02,662.64 1513.51,662.65 1517,662.66 1520.48,662.66 1523.97,662.67 1527.45,662.67 1530.94,662.67 1534.42,662.67 1537.91,662.67 1541.39,662.68 1544.88,662.68 1548.37,662.68 1551.85,662.68 1555.34,662.68 1558.82,662.68 1562.31,662.68 1565.79,662.68 1569.28,662.68 1572.76,662.68 1576.25,662.68 1579.74,662.68 1583.22,662.68 1586.71,662.68 1590.19,662.68 1593.68,662.68 1597.16,662.68 1600.65,662.68 1604.14,662.68 1607.62,662.68 1611.11,662.68 1614.59,662.68 1618.08,662.68 1621.56,662.68 1625.05,662.68 1628.53,662.68 1632.02,662.68 1635.51,662.68 1638.99,662.68 1642.48,662.68 1645.96,662.68 1649.45,662.68 1652.93,662.68 1656.42,662.68 1659.9,662.68 1663.39,662.68 1666.88,662.68 1670.36,662.68 1673.85,662.68 1677.33,662.68 1680.82,662.68 1684.3,662.68 1687.79,662.68 1691.28,662.68 1694.76,662.68 1698.25,662.68 1701.73,662.68 1705.22,662.68 1708.7,662.68 1712.19,662.68 1715.67,662.68 1719.16,662.68 1722.65,662.68 1726.13,662.68 1729.62,662.68 1733.1,662.68 1736.59,662.68 1740.07,662.68 1743.56,662.68 1747.04,662.68 1750.53,662.68 1754.02,662.68 1757.5,662.68 1760.99,662.68 1764.47,662.68 1767.96,662.68 1771.44,662.68 1774.93,662.68 1778.42,662.68 1781.9,662.68 1785.39,662.68 1788.87,662.68 1792.36,662.68 1795.84,662.68 1799.33,662.68 1802.81,662.68 1806.3,662.68 1809.79,662.68 1813.27,662.68 1816.76,662.68 1820.24,662.68 1823.73,662.68 1827.21,662.68 1830.7,662.68 1834.18,662.68" fill="none" stroke="#ff2a2a" stroke-width="2" stroke-dasharray="6 4.5" stroke-linejoin="round"/>
<rect x="1366.69" y="286.49" width="7.82" height="7.82" fill="#1fe6f0"/>
<rect x="1372.79" y="313.28" width="7.82" height="7.82" fill="#1fe6f0"/>
<rect x="1384.12" y="340.06" width="7.82" height="7.82" fill="#1fe6f0"/>
<rect x="1398.93" y="354.59" width="7.82" height="7.82" fill="#1fe6f0"/>
<rect x="1422.46" y="366.85" width="7.82" height="7.82" fill="#1fe6f0"/>
<rect x="1450.34" y="378.2" width="7.82" height="7.82" fill="#1fe6f0"/>
<rect x="1471.26" y="385.92" width="7.82" height="7.82" fill="#1fe6f0"/>
<rect x="1498.27" y="394.54" width="7.82" height="7.82" fill="#1fe6f0"/>
<rect x="1527.03" y="405.44" width="7.82" height="7.82" fill="#1fe6f0"/>
<rect x="1575.83" y="409.98" width="7.82" height="7.82" fill="#1fe6f0"/>
<rect x="1628.11" y="412.25" width="7.82" height="7.82" fill="#1fe6f0"/>
<rect x="1680.39" y="414.97" width="7.82" height="7.82" fill="#1fe6f0"/>
<rect x="1784.96" y="412.25" width="7.82" height="7.82" fill="#1fe6f0"/>
<polygon points="1370.6,295.67 1375.87,286.45 1365.33,286.45" fill="#ee82ee"/>
<polygon points="1376.7,344.25 1381.97,335.03 1371.43,335.03" fill="#ee82ee"/>
<polygon points="1388.03,376.03 1393.3,366.81 1382.76,366.81" fill="#ee82ee"/>
<polygon points="1402.84,393.28 1408.11,384.06 1397.57,384.06" fill="#ee82ee"/>
<polygon points="1426.37,410.99 1431.64,401.76 1421.1,401.76" fill="#ee82ee"/>
<polygon points="1454.25,435.05 1459.52,425.83 1448.98,425.83" fill="#ee82ee"/>
<polygon points="1475.17,452.3 1480.44,443.08 1469.9,443.08" fill="#ee82ee"/>
<polygon points="1502.18,469.55 1507.45,460.33 1496.91,460.33" fill="#ee82ee"/>
<polygon points="1530.94,475 1536.21,465.78 1525.67,465.78" fill="#ee82ee"/>
<polygon points="1579.74,482.26 1585.01,473.04 1574.47,473.04" fill="#ee82ee"/>
<polygon points="1632.02,485.9 1637.29,476.67 1626.75,476.67" fill="#ee82ee"/>
<polygon points="1684.3,496.34 1689.57,487.12 1679.03,487.12" fill="#ee82ee"/>
<polygon points="1788.87,500.42 1794.14,491.2 1783.6,491.2" fill="#ee82ee"/>
<polygon points="1370.6,285.13 1375.87,294.35 1365.33,294.35" fill="#22dd22"/>
<polygon points="1376.7,410.89 1381.97,420.11 1371.43,420.11" fill="#22dd22"/>
<polygon points="1388.03,423.6 1393.3,432.82 1382.76,432.82" fill="#22dd22"/>
<polygon points="1402.84,444.03 1408.11,453.25 1397.57,453.25" fill="#22dd22"/>
<polygon points="1426.37,453.11 1431.64,462.33 1421.1,462.33" fill="#22dd22"/>
<polygon points="1454.25,472.63 1459.52,481.85 1448.98,481.85" fill="#22dd22"/>
<polygon points="1475.17,492.15 1480.44,501.38 1469.9,501.38" fill="#22dd22"/>
<polygon points="1502.18,492.15 1507.45,501.38 1496.91,501.38" fill="#22dd22"/>
<polygon points="1530.94,524.84 1536.21,534.06 1525.67,534.06" fill="#22dd22"/>
<polygon points="1579.74,518.49 1585.01,527.71 1574.47,527.71" fill="#22dd22"/>
<polygon points="1632.02,533.92 1637.29,543.14 1626.75,543.14" fill="#22dd22"/>
<polygon points="1684.3,537.55 1689.57,546.78 1679.03,546.78" fill="#22dd22"/>
<polygon points="1788.87,543 1794.14,552.22 1783.6,552.22" fill="#22dd22"/>
<rect x="1366.69" y="286.49" width="7.82" height="7.82" fill="#0000ff"/>
<rect x="1372.79" y="468.09" width="7.82" height="7.82" fill="#0000ff"/>
<rect x="1384.12" y="552.08" width="7.82" height="7.82" fill="#0000ff"/>
<rect x="1398.93" y="554.35" width="7.82" height="7.82" fill="#0000ff"/>
<rect x="1422.46" y="581.59" width="7.82" height="7.82" fill="#0000ff"/>
<rect x="1450.34" y="598.84" width="7.82" height="7.82" fill="#0000ff"/>
<rect x="1471.26" y="613.37" width="7.82" height="7.82" fill="#0000ff"/>
<rect x="1498.27" y="624.72" width="7.82" height="7.82" fill="#0000ff"/>
<rect x="1527.03" y="630.62" width="7.82" height="7.82" fill="#0000ff"/>
<rect x="1575.83" y="638.34" width="7.82" height="7.82" fill="#0000ff"/>
<rect x="1628.11" y="642.43" width="7.82" height="7.82" fill="#0000ff"/>
<rect x="1680.39" y="655.59" width="7.82" height="7.82" fill="#0000ff"/>
<rect x="1784.96" y="655.59" width="7.82" height="7.82" fill="#0000ff"/>
<circle cx="1370.6" cy="290.4" r="4.42" fill="#000000"/>
<circle cx="1376.7" cy="412.53" r="4.42" fill="#000000"/>
<circle cx="1388.03" cy="438.4" r="4.42" fill="#000000"/>
<circle cx="1402.84" cy="462.47" r="4.42" fill="#000000"/>
<circle cx="1426.37" cy="476.09" r="4.42" fill="#000000"/>
<circle cx="1454.25" cy="491.52" r="4.42" fill="#000000"/>
<circle cx="1475.17" cy="513.77" r="4.42" fill="#000000"/>
<circle cx="1502.18" cy="527.39" r="4.42" fill="#000000"/>
<circle cx="1530.94" cy="549.18" r="4.42" fill="#000000"/>
<circle cx="1579.74" cy="551.9" r="4.42" fill="#000000"/>
<circle cx="1632.02" cy="563.71" r="4.42" fill="#000000"/>
<circle cx="1684.3" cy="575.51" r="4.42" fill="#000000"/>
<circle cx="1788.87" cy="577.78" r="4.42" fill="#000000"/>
</g>
<g clip-path="url(#cp2b)">
<line x1="1841" y1="416.15" x2="1870" y2="416.15" stroke="#1a1a1a" stroke-width="2"/>
<line x1="1841" y1="418.88" x2="1870" y2="418.88" stroke="#ff2a2a" stroke-width="2" stroke-dasharray="6 4.5"/>
<rect x="1866.09" y="414.97" width="7.82" height="7.82" fill="#1fe6f0"/>
<line x1="1841" y1="491.83" x2="1870" y2="491.83" stroke="#1a1a1a" stroke-width="2"/>
<line x1="1841" y1="494.7" x2="1870" y2="494.7" stroke="#ff2a2a" stroke-width="2" stroke-dasharray="6 4.5"/>
<polygon points="1870,502.24 1875.27,493.02 1864.73,493.02" fill="#ee82ee"/>
<line x1="1841" y1="548.9" x2="1870" y2="548.9" stroke="#1a1a1a" stroke-width="2"/>
<line x1="1841" y1="551.45" x2="1870" y2="551.45" stroke="#ff2a2a" stroke-width="2" stroke-dasharray="6 4.5"/>
<polygon points="1870,543.91 1875.27,553.13 1864.73,553.13" fill="#22dd22"/>
<line x1="1841" y1="576.31" x2="1870" y2="576.31" stroke="#1a1a1a" stroke-width="2"/>
<line x1="1841" y1="578.69" x2="1870" y2="578.69" stroke="#ff2a2a" stroke-width="2" stroke-dasharray="6 4.5"/>
<circle cx="1870" cy="578.69" r="4.42" fill="#000000"/>
<line x1="1841" y1="662.74" x2="1870" y2="662.74" stroke="#1a1a1a" stroke-width="2"/>
<line x1="1841" y1="662.68" x2="1870" y2="662.68" stroke="#ff2a2a" stroke-width="2" stroke-dasharray="6 4.5"/>
<rect x="1866.09" y="659.68" width="7.82" height="7.82" fill="#0000ff"/>
</g>
<line x1="1662.5" y1="290.6" x2="1691.3" y2="290.6" stroke="#ff2a2a" stroke-width="2" stroke-dasharray="5 4.5"/>
<text x="1697" y="294.5" font-size="13" fill="#000" font-weight="bold" text-anchor="start">pseudo-1st order</text>
<line x1="1662.5" y1="309.8" x2="1693" y2="309.8" stroke="#1a1a1a" stroke-width="2"/>
<text x="1697" y="313.6" font-size="13" fill="#000" font-weight="bold" text-anchor="start">pseudo-2nd order</text>
<rect x="1816.32" y="284.62" width="7.36" height="7.36" fill="#ff0000"/>
<text x="1836" y="293.3" font-size="13.5" fill="#000" font-weight="bold" text-anchor="start">IBF</text>
<rect x="1816.32" y="303.82" width="7.36" height="7.36" fill="#0000ff"/>
<text x="1836" y="312.5" font-size="13.5" fill="#000" font-weight="bold" text-anchor="start">DCF</text>
<polygon points="1820,332.46 1824.96,323.78 1815.04,323.78" fill="#008000"/>
<text x="1836" y="332.5" font-size="13.5" fill="#000" font-weight="bold" text-anchor="start">PAR</text>
<polygon points="1820,340.54 1824.96,349.22 1815.04,349.22" fill="#ff00ff"/>
<text x="1836" y="350.5" font-size="13.5" fill="#000" font-weight="bold" text-anchor="start">KPF</text>
<circle cx="1820" cy="365" r="4.16" fill="#000000"/>
<text x="1836" y="370" font-size="13.5" fill="#000" font-weight="bold" text-anchor="start">SAL</text>
</g>
</svg></body></html>
